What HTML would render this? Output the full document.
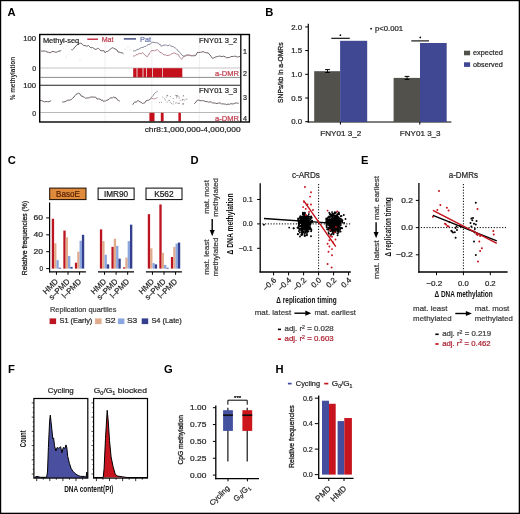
<!DOCTYPE html>
<html><head><meta charset="utf-8"><style>html,body{margin:0;padding:0;background:#fff;overflow:hidden;}svg{display:block;will-change:transform;}</style></head>
<body><svg width="520" height="514" viewBox="0 0 520 514" font-family='"Liberation Sans", sans-serif'><rect x="0" y="0" width="520" height="514" fill="#fff"/><text x="7.6" y="15.8" font-size="11.2" text-anchor="start" fill="#000" font-weight="bold">A</text><text x="14.6" y="78.6" font-size="7.6" text-anchor="middle" fill="#1a1a1a" font-weight="bold" textLength="43.5" lengthAdjust="spacingAndGlyphs" transform="rotate(-90 14.6 78.6)">% methylation</text><text x="36.1" y="40.6" font-size="7.2" text-anchor="end" fill="#282828" textLength="12.9" lengthAdjust="spacingAndGlyphs" stroke="#282828" stroke-width="0.22">100</text><text x="36.1" y="70.7" font-size="7.2" text-anchor="end" fill="#282828" textLength="3.9" lengthAdjust="spacingAndGlyphs" stroke="#282828" stroke-width="0.22">0</text><text x="36.1" y="88.3" font-size="7.2" text-anchor="end" fill="#282828" textLength="12.9" lengthAdjust="spacingAndGlyphs" stroke="#282828" stroke-width="0.22">100</text><text x="36.1" y="115.7" font-size="7.2" text-anchor="end" fill="#282828" textLength="3.9" lengthAdjust="spacingAndGlyphs" stroke="#282828" stroke-width="0.22">0</text><line x1="105" y1="35.2" x2="105" y2="121.4" stroke="#e4e4e4" stroke-width="0.6"/><line x1="151.8" y1="35.2" x2="151.8" y2="121.4" stroke="#e4e4e4" stroke-width="0.6"/><line x1="199.3" y1="35.2" x2="199.3" y2="121.4" stroke="#e4e4e4" stroke-width="0.6"/><line x1="40.4" y1="68" x2="240.2" y2="68" stroke="#c4c4c4" stroke-width="1.0"/><line x1="40.4" y1="77.4" x2="240.2" y2="77.4" stroke="#8c8c8c" stroke-width="1.0"/><line x1="40.4" y1="112.5" x2="240.2" y2="112.5" stroke="#b8b8b8" stroke-width="1.0"/><rect x="133.2" y="68.2" width="3.4000000000000057" height="9.0" fill="#c4101a"/><rect x="137.4" y="68.2" width="5.199999999999989" height="9.0" fill="#c4101a"/><rect x="143.4" y="68.2" width="2.799999999999983" height="9.0" fill="#c4101a"/><rect x="146.9" y="68.2" width="5.400000000000006" height="9.0" fill="#c4101a"/><rect x="153.0" y="68.2" width="9.199999999999989" height="9.0" fill="#c4101a"/><rect x="162.8" y="68.2" width="19.5" height="9.0" fill="#c4101a"/><rect x="149.4" y="112.8" width="5.099999999999994" height="8.6" fill="#c4101a"/><rect x="160.8" y="112.8" width="2.799999999999983" height="8.6" fill="#c4101a"/><rect x="178.4" y="112.8" width="2.5" height="8.6" fill="#c4101a"/><polyline points="41.0,51.0 42.5,51.1 44.0,50.9 45.5,51.2 47.0,52.0 48.5,52.2 50.0,53.0 51.5,51.8 53.0,51.5 54.5,51.8 56.0,52.4 57.5,51.7 59.0,51.2 61.2,50.6" fill="none" stroke="#5e5258" stroke-width="0.9" stroke-linejoin="round"/><polyline points="71.3,49.7 72.4,49.8 73.5,48.9 74.8,46.9 76.0,46.0 77.0,44.9 78.0,44.2 79.4,43.5 80.7,43.2 82.0,43.8 83.5,45.5 85.0,45.5 86.8,46.3 88.5,45.5 89.8,46.8 91.0,47.9 92.5,47.4 94.0,48.6 96.0,49.6 97.3,48.4 98.6,48.5 99.8,49.8 101.0,50.9 102.5,50.6 104.0,50.8 105.0,52.7 106.3,51.6 107.7,51.4 108.8,50.6 110.0,49.5 111.2,48.5 112.4,47.8 113.7,48.2 115.0,48.9 116.0,49.5 117.0,50.0 118.0,52.0 119.2,52.1 120.5,52.7 122.0,52.7 123.5,53.8" fill="none" stroke="#5e5258" stroke-width="0.9" stroke-linejoin="round"/><polyline points="195.0,56.1 196.0,55.1 197.0,52.8 198.1,52.2 199.1,52.6 200.4,52.3 201.7,52.1 203.0,51.5 204.2,52.3 205.5,52.6 206.8,53.0 208.0,52.7 209.0,54.0 210.0,54.9 211.2,56.6 212.4,58.3 213.6,58.0 214.8,57.3 216.0,56.9 217.3,56.6 218.7,56.2 220.0,56.1 221.8,56.6 223.5,56.2 225.0,56.7 226.5,57.8 228.0,57.6 229.3,57.5 230.7,56.8 232.0,56.3 233.3,56.6 234.7,56.1 236.0,56.4 237.3,57.1 238.7,56.7 240.0,56.5" fill="none" stroke="#5e5258" stroke-width="0.9" stroke-linejoin="round"/><polyline points="133.0,51.3 134.3,50.6 135.7,50.7 137.0,49.5 138.5,49.3 140.0,48.3 141.5,47.5 143.0,47.5 144.5,46.4 146.0,46.4 147.0,45.3 148.0,44.7 149.0,44.4 150.2,44.2 151.5,42.7 152.8,42.3 154.0,42.2 155.2,42.8 156.5,42.7 158.5,43.1 159.4,44.7 160.4,44.5 161.3,46.4 162.7,45.5 164.0,45.2 165.2,45.0 166.5,45.2 167.9,45.8 169.4,45.0 170.8,46.0 172.1,46.5 173.5,46.6 174.5,47.8 175.5,48.1 176.5,49.0 177.4,50.0 178.3,51.4 179.3,51.9 180.2,52.6 181.1,54.0 182.0,55.0 182.9,56.0 184.2,56.2 185.6,55.7 186.8,54.9 188.0,55.1 189.5,55.2 191.0,55.9 192.3,55.7 193.7,55.2 195.0,55.5" fill="none" stroke="#707488" stroke-width="0.85" stroke-linejoin="round"/><polyline points="133.0,55.9 134.5,56.2 136.0,54.6 137.5,54.7 139.0,53.5 140.2,53.3 141.3,53.8 142.5,52.5 143.8,54.1 145.0,55.0 146.1,55.9 147.2,56.9 148.0,55.4 148.7,55.0 149.5,53.0 150.3,52.3 151.1,51.1 151.9,50.5 153.2,50.5 154.5,50.9 155.9,50.1 157.3,49.6 158.7,50.8 160.0,52.6 161.0,52.2 162.0,53.5 163.0,54.0 164.0,55.0 165.3,54.8 166.7,55.5 168.0,55.5 169.4,55.0 170.7,54.6 172.1,53.6 173.5,53.1 174.8,53.0 176.2,54.0 177.3,54.2 178.5,54.6 179.3,56.8 180.2,57.6 181.5,59.2 182.4,58.5 183.3,56.8 184.2,56.0 185.6,56.2 187.0,54.9 188.3,55.7 189.7,54.9 191.0,55.6 192.3,55.7 193.7,56.0 195.0,55.5" fill="none" stroke="#a87580" stroke-width="0.85" stroke-linejoin="round"/><circle cx="45.0" cy="45.0" r="0.45" fill="#aaa"/><circle cx="63.0" cy="48.0" r="0.45" fill="#aaa"/><circle cx="67.0" cy="46.0" r="0.45" fill="#aaa"/><circle cx="80.0" cy="60.0" r="0.45" fill="#aaa"/><circle cx="66.0" cy="57.0" r="0.45" fill="#aaa"/><circle cx="125.0" cy="49.0" r="0.45" fill="#aaa"/><circle cx="128.0" cy="47.0" r="0.45" fill="#aaa"/><circle cx="130.0" cy="50.0" r="0.45" fill="#aaa"/><polyline points="40.0,100.4 41.5,100.6 43.0,101.2 44.5,101.9 46.0,101.5 47.5,101.7 49.0,101.8 51.1,100.6" fill="none" stroke="#5e5258" stroke-width="0.9" stroke-linejoin="round"/><polyline points="62.2,101.7 63.6,102.1 65.0,101.6 66.5,100.9 68.0,100.0 69.7,100.2 71.3,99.6 72.7,98.1 74.0,97.0 75.0,95.6 76.0,94.3 77.2,93.9 78.4,93.2 80.0,93.9 81.0,95.9 82.0,96.1 83.2,96.8 84.4,97.2 85.6,98.4 86.8,97.9 88.0,98.0 89.5,97.7 91.0,96.9 92.8,97.1 94.5,97.1 95.8,97.3 97.0,99.1 98.5,98.8 100.0,99.0 101.2,100.4 102.3,99.8 103.4,101.4 104.6,101.1 105.7,100.9 106.9,100.2 108.0,100.0 109.5,98.7 111.0,97.6 112.3,98.2 113.7,96.7 114.8,97.9 116.0,97.6 117.0,99.4 118.0,100.1 118.9,100.7 119.8,101.2" fill="none" stroke="#5e5258" stroke-width="0.9" stroke-linejoin="round"/><polyline points="132.7,104.8 133.8,102.8 135.0,101.8 136.2,102.4 137.5,100.6 138.8,100.9 140.0,102.0 141.2,102.2 142.3,103.5 143.5,103.1 144.8,102.9 146.0,100.7 147.4,100.4 148.8,100.1 149.9,99.3 151.0,98.5" fill="none" stroke="#5e5258" stroke-width="0.9" stroke-linejoin="round"/><polyline points="194.2,103.8 195.1,103.0 196.0,102.0 197.2,100.2 198.5,100.1 200.0,100.5 201.3,100.8 202.7,100.5 204.3,101.0 206.0,101.7 207.3,101.6 208.7,102.2 210.0,101.8 211.3,102.1 212.7,103.1 214.1,102.9 215.4,103.2 216.9,103.6 218.5,103.1 220.0,102.8 221.3,103.9 222.7,103.8 224.0,104.0 225.3,104.1 226.7,104.7 228.0,104.0 229.3,104.4 230.7,103.7 232.0,103.9 233.5,103.9 235.0,103.2 236.2,102.8 237.5,103.3 238.7,103.2" fill="none" stroke="#5e5258" stroke-width="0.9" stroke-linejoin="round"/><circle cx="165.7" cy="99.9" r="0.5" fill="#8a8088"/><circle cx="169.4" cy="100.4" r="0.5" fill="#8a8088"/><circle cx="176.5" cy="95.6" r="0.5" fill="#8a8088"/><circle cx="159.4" cy="102.5" r="0.5" fill="#8a8088"/><circle cx="166.3" cy="97.1" r="0.5" fill="#8a8088"/><circle cx="186.9" cy="99.2" r="0.5" fill="#8a8088"/><circle cx="182.4" cy="99.3" r="0.5" fill="#8a8088"/><circle cx="176.9" cy="96.4" r="0.5" fill="#8a8088"/><circle cx="176.8" cy="102.8" r="0.5" fill="#8a8088"/><circle cx="173.6" cy="101.7" r="0.5" fill="#8a8088"/><circle cx="177.8" cy="95.6" r="0.5" fill="#8a8088"/><circle cx="180.2" cy="100.3" r="0.5" fill="#8a8088"/><circle cx="167.4" cy="95.3" r="0.5" fill="#8a8088"/><circle cx="183.2" cy="99.3" r="0.5" fill="#8a8088"/><circle cx="179.1" cy="102.9" r="0.5" fill="#8a8088"/><circle cx="179.0" cy="103.3" r="0.5" fill="#8a8088"/><circle cx="170.1" cy="102.2" r="0.5" fill="#8a8088"/><circle cx="171.4" cy="103.4" r="0.5" fill="#8a8088"/><circle cx="183.6" cy="95.9" r="0.5" fill="#8a8088"/><circle cx="162.8" cy="97.0" r="0.5" fill="#8a8088"/><circle cx="186.0" cy="98.9" r="0.5" fill="#8a8088"/><circle cx="176.5" cy="97.7" r="0.5" fill="#8a8088"/><circle cx="173.2" cy="98.5" r="0.5" fill="#8a8088"/><circle cx="168.8" cy="100.3" r="0.5" fill="#8a8088"/><circle cx="175.4" cy="103.1" r="0.5" fill="#8a8088"/><circle cx="178.1" cy="103.4" r="0.5" fill="#8a8088"/><circle cx="183.0" cy="103.9" r="0.5" fill="#8a8088"/><circle cx="177.8" cy="96.5" r="0.5" fill="#8a8088"/><circle cx="183.1" cy="103.7" r="0.5" fill="#8a8088"/><circle cx="184.3" cy="100.1" r="0.5" fill="#8a8088"/><circle cx="179.0" cy="96.9" r="0.5" fill="#8a8088"/><circle cx="182.3" cy="100.2" r="0.5" fill="#8a8088"/><circle cx="167.0" cy="95.6" r="0.5" fill="#8a8088"/><circle cx="182.9" cy="103.9" r="0.5" fill="#8a8088"/><circle cx="161.5" cy="102.2" r="0.5" fill="#8a8088"/><circle cx="170.5" cy="96.4" r="0.5" fill="#8a8088"/><circle cx="167.2" cy="101.9" r="0.5" fill="#8a8088"/><circle cx="183.4" cy="95.4" r="0.5" fill="#8a8088"/><circle cx="176.2" cy="95.4" r="0.5" fill="#8a8088"/><circle cx="179.1" cy="98.0" r="0.5" fill="#8a8088"/><circle cx="183.7" cy="103.8" r="0.5" fill="#8a8088"/><circle cx="173.2" cy="104.0" r="0.5" fill="#8a8088"/><circle cx="167.7" cy="95.7" r="0.5" fill="#8a8088"/><circle cx="175.8" cy="95.3" r="0.5" fill="#8a8088"/><circle cx="164.5" cy="98.7" r="0.5" fill="#8a8088"/><polyline points="151.0,97.9 151.7,97.0 152.3,96.4 153.0,95.7 154.2,93.8 155.5,92.5 156.6,91.9 157.6,91.4" fill="none" stroke="#707488" stroke-width="0.8" stroke-linejoin="round"/><polyline points="151.0,98.0 152.2,98.4 153.5,98.8 155.5,98.7 157.5,97.5" fill="none" stroke="#a87580" stroke-width="0.8" stroke-linejoin="round"/><rect x="39.7" y="34.5" width="209.7" height="87.5" fill="none" stroke="#000" stroke-width="1.4"/><line x1="240.8" y1="34.5" x2="240.8" y2="122" stroke="#000" stroke-width="1.3"/><line x1="39.8" y1="85.3" x2="240.8" y2="85.3" stroke="#222" stroke-width="1.1"/><text x="42.9" y="42.6" font-size="7.3" text-anchor="start" fill="#282828" textLength="36.3" lengthAdjust="spacingAndGlyphs" stroke="#282828" stroke-width="0.22">Methyl-seq</text><line x1="87.3" y1="39.2" x2="98" y2="39.2" stroke="#c0283a" stroke-width="1.4"/><text x="101.7" y="42.2" font-size="7.0" text-anchor="start" fill="#c04050" textLength="11.8" lengthAdjust="spacingAndGlyphs" stroke="#c04050" stroke-width="0.22">Mat</text><line x1="123.8" y1="38.9" x2="136" y2="38.9" stroke="#3a4278" stroke-width="1.4"/><text x="140" y="42.2" font-size="7.0" text-anchor="start" fill="#6a76ae" textLength="11" lengthAdjust="spacingAndGlyphs" stroke="#6a76ae" stroke-width="0.22">Pat</text><text x="237.3" y="43.1" font-size="7.3" text-anchor="end" fill="#282828" textLength="38.3" lengthAdjust="spacingAndGlyphs" stroke="#282828" stroke-width="0.22">FNY01 3_2</text><text x="237.3" y="92.6" font-size="7.3" text-anchor="end" fill="#282828" textLength="38.3" lengthAdjust="spacingAndGlyphs" stroke="#282828" stroke-width="0.22">FNY01 3_3</text><text x="239.1" y="75.9" font-size="7.1" text-anchor="end" fill="#c04050" textLength="24" lengthAdjust="spacingAndGlyphs" stroke="#c04050" stroke-width="0.22">a-DMR</text><text x="239.1" y="120.6" font-size="7.1" text-anchor="end" fill="#c04050" textLength="24" lengthAdjust="spacingAndGlyphs" stroke="#c04050" stroke-width="0.22">a-DMR</text><text x="245" y="54.300000000000004" font-size="7.2" text-anchor="middle" fill="#282828" stroke="#282828" stroke-width="0.22">1</text><text x="245" y="76.3" font-size="7.2" text-anchor="middle" fill="#282828" stroke="#282828" stroke-width="0.22">2</text><text x="245" y="99.6" font-size="7.2" text-anchor="middle" fill="#282828" stroke="#282828" stroke-width="0.22">3</text><text x="245" y="120.69999999999999" font-size="7.2" text-anchor="middle" fill="#282828" stroke="#282828" stroke-width="0.22">4</text><text x="144.7" y="132.4" font-size="7.2" text-anchor="start" fill="#282828" textLength="95.9" lengthAdjust="spacingAndGlyphs" stroke="#282828" stroke-width="0.22">chr8:1,000,000-4,000,000</text><text x="265.2" y="15.8" font-size="11.2" text-anchor="start" fill="#000" font-weight="bold">B</text><text x="283.4" y="72.7" font-size="7.0" text-anchor="middle" fill="#1e1e1e" textLength="60.5" lengthAdjust="spacingAndGlyphs" transform="rotate(-90 283.4 72.7)" stroke="#1e1e1e" stroke-width="0.3">SNPs/kb in a-OMRs</text><line x1="308.3" y1="23.8" x2="308.3" y2="122.4" stroke="#000" stroke-width="1.2"/><line x1="307.7" y1="122" x2="451.4" y2="122" stroke="#000" stroke-width="1.2"/><line x1="305.2" y1="121.7" x2="308.3" y2="121.7" stroke="#000" stroke-width="1"/><text x="302.1" y="124.3" font-size="7.2" text-anchor="end" fill="#282828" textLength="10.9" lengthAdjust="spacingAndGlyphs" stroke="#282828" stroke-width="0.22">0.0</text><line x1="305.2" y1="98.0" x2="308.3" y2="98.0" stroke="#000" stroke-width="1"/><text x="302.1" y="100.6" font-size="7.2" text-anchor="end" fill="#282828" textLength="10.9" lengthAdjust="spacingAndGlyphs" stroke="#282828" stroke-width="0.22">0.5</text><line x1="305.2" y1="74.30000000000001" x2="308.3" y2="74.30000000000001" stroke="#000" stroke-width="1"/><text x="302.1" y="76.9" font-size="7.2" text-anchor="end" fill="#282828" textLength="10.9" lengthAdjust="spacingAndGlyphs" stroke="#282828" stroke-width="0.22">1.0</text><line x1="305.2" y1="50.60000000000001" x2="308.3" y2="50.60000000000001" stroke="#000" stroke-width="1"/><text x="302.1" y="53.20000000000001" font-size="7.2" text-anchor="end" fill="#282828" textLength="10.9" lengthAdjust="spacingAndGlyphs" stroke="#282828" stroke-width="0.22">1.5</text><line x1="305.2" y1="26.900000000000006" x2="308.3" y2="26.900000000000006" stroke="#000" stroke-width="1"/><text x="302.1" y="29.500000000000007" font-size="7.2" text-anchor="end" fill="#282828" textLength="10.9" lengthAdjust="spacingAndGlyphs" stroke="#282828" stroke-width="0.22">2.0</text><rect x="314.2" y="71.2" width="25.9" height="50.8" fill="#52514c"/><rect x="340.1" y="40.8" width="27.1" height="81.2" fill="#414893"/><rect x="393.6" y="77.9" width="26.4" height="44.1" fill="#52514c"/><rect x="420" y="43" width="26.7" height="79" fill="#414893"/><line x1="327.5" y1="69.6" x2="327.5" y2="72.5" stroke="#000" stroke-width="0.9"/><line x1="325.1" y1="69.6" x2="329.9" y2="69.6" stroke="#000" stroke-width="1"/><line x1="325.1" y1="72.5" x2="329.9" y2="72.5" stroke="#000" stroke-width="1"/><line x1="407" y1="76.4" x2="407" y2="79.4" stroke="#000" stroke-width="0.9"/><line x1="404.6" y1="76.4" x2="409.4" y2="76.4" stroke="#000" stroke-width="1"/><line x1="404.6" y1="79.4" x2="409.4" y2="79.4" stroke="#000" stroke-width="1"/><line x1="331.3" y1="38.3" x2="349.8" y2="38.3" stroke="#000" stroke-width="1.1"/><line x1="411.3" y1="40.9" x2="429" y2="40.9" stroke="#000" stroke-width="1.1"/><circle cx="340.4" cy="35.2" r="0.85" fill="#000"/><circle cx="420.3" cy="37.4" r="0.85" fill="#000"/><circle cx="371.1" cy="28.7" r="0.85" fill="#000"/><text x="375" y="30.8" font-size="7.2" text-anchor="start" fill="#282828" textLength="28.1" lengthAdjust="spacingAndGlyphs" stroke="#282828" stroke-width="0.22">p&lt;0.001</text><rect x="464" y="50.7" width="6.1" height="4.6" fill="#52514c"/><rect x="464" y="62.3" width="6.1" height="4.6" fill="#414893"/><text x="473" y="55.3" font-size="7.2" text-anchor="start" fill="#282828" textLength="29.8" lengthAdjust="spacingAndGlyphs" stroke="#282828" stroke-width="0.22">expected</text><text x="473" y="67.1" font-size="7.2" text-anchor="start" fill="#282828" textLength="29.8" lengthAdjust="spacingAndGlyphs" stroke="#282828" stroke-width="0.22">observed</text><line x1="340.4" y1="122" x2="340.4" y2="124.6" stroke="#000" stroke-width="1"/><line x1="419.8" y1="122" x2="419.8" y2="124.6" stroke="#000" stroke-width="1"/><text x="340.7" y="135.5" font-size="7.8" text-anchor="middle" fill="#282828" textLength="41" lengthAdjust="spacingAndGlyphs" stroke="#282828" stroke-width="0.22">FNY01 3_2</text><text x="420.2" y="135.5" font-size="7.8" text-anchor="middle" fill="#282828" textLength="40.8" lengthAdjust="spacingAndGlyphs" stroke="#282828" stroke-width="0.22">FNY01 3_3</text><text x="7.8" y="164" font-size="11.2" text-anchor="start" fill="#000" font-weight="bold">C</text><text x="27.0" y="238.0" font-size="7.6" text-anchor="middle" fill="#1e1e1e" textLength="74.4" lengthAdjust="spacingAndGlyphs" transform="rotate(-90 27.0 238.0)" stroke="#1e1e1e" stroke-width="0.3">Relative frequencies (%)</text><line x1="49.6" y1="202.5" x2="49.6" y2="272.3" stroke="#000" stroke-width="1.2"/><line x1="46.2" y1="268.6" x2="49.6" y2="268.6" stroke="#000" stroke-width="1"/><text x="43" y="271.1" font-size="7.2" text-anchor="end" fill="#282828" textLength="3.5" lengthAdjust="spacingAndGlyphs" stroke="#282828" stroke-width="0.22">0</text><line x1="46.2" y1="251.70000000000002" x2="49.6" y2="251.70000000000002" stroke="#000" stroke-width="1"/><text x="43" y="254.20000000000002" font-size="7.2" text-anchor="end" fill="#282828" textLength="9.5" lengthAdjust="spacingAndGlyphs" stroke="#282828" stroke-width="0.22">20</text><line x1="46.2" y1="234.8" x2="49.6" y2="234.8" stroke="#000" stroke-width="1"/><text x="43" y="237.3" font-size="7.2" text-anchor="end" fill="#282828" textLength="9.5" lengthAdjust="spacingAndGlyphs" stroke="#282828" stroke-width="0.22">40</text><line x1="46.2" y1="217.90000000000003" x2="49.6" y2="217.90000000000003" stroke="#000" stroke-width="1"/><text x="43" y="220.40000000000003" font-size="7.2" text-anchor="end" fill="#282828" textLength="9.5" lengthAdjust="spacingAndGlyphs" stroke="#282828" stroke-width="0.22">60</text><rect x="49.7" y="188.1" width="36.3" height="11.5" fill="#e08a3c" stroke="#1a0a00" stroke-width="1"/><text x="67.9" y="197" font-size="8.2" text-anchor="middle" fill="#5a2400" textLength="23.8" lengthAdjust="spacingAndGlyphs" stroke="#5a2400" stroke-width="0.22">BasoE</text><line x1="49.0" y1="271.9" x2="85.9" y2="271.9" stroke="#000" stroke-width="1.2"/><line x1="56.4375" y1="271.9" x2="56.4375" y2="274.8" stroke="#000" stroke-width="1"/><rect x="51.78" y="218.75" width="2.33" height="49.85" fill="#bc1420"/><rect x="54.11" y="243.25" width="2.33" height="25.35" fill="#e0aa8c"/><rect x="56.44" y="260.15" width="2.33" height="8.45" fill="#8ca6df"/><rect x="58.77" y="267.75" width="2.33" height="0.84" fill="#343f8e"/><text x="58.6" y="282.0" font-size="7.9" text-anchor="end" fill="#282828" transform="rotate(-45 58.6 282.0)" stroke="#282828" stroke-width="0.22">HMD</text><line x1="68.0" y1="271.9" x2="68.0" y2="274.8" stroke="#000" stroke-width="1"/><rect x="63.34" y="230.58" width="2.33" height="38.02" fill="#bc1420"/><rect x="65.67" y="237.34" width="2.33" height="31.27" fill="#e0aa8c"/><rect x="68.00" y="255.93" width="2.33" height="12.67" fill="#8ca6df"/><rect x="70.33" y="266.91" width="2.33" height="1.69" fill="#343f8e"/><text x="70.2" y="282.0" font-size="7.9" text-anchor="end" fill="#282828" transform="rotate(-45 70.2 282.0)" stroke="#282828" stroke-width="0.22">s–PMD</text><line x1="79.5625" y1="271.9" x2="79.5625" y2="274.8" stroke="#000" stroke-width="1"/><rect x="74.90" y="262.69" width="2.33" height="5.92" fill="#bc1420"/><rect x="77.23" y="251.70" width="2.33" height="16.90" fill="#e0aa8c"/><rect x="79.56" y="240.72" width="2.33" height="27.88" fill="#8ca6df"/><rect x="81.89" y="234.80" width="2.33" height="33.80" fill="#343f8e"/><text x="81.8" y="282.0" font-size="7.9" text-anchor="end" fill="#282828" transform="rotate(-45 81.8 282.0)" stroke="#282828" stroke-width="0.22">l–PMD</text><rect x="98.1" y="188.1" width="36" height="11.5" fill="#fff" stroke="#000" stroke-width="1"/><text x="116.0" y="197" font-size="8.2" text-anchor="middle" fill="#1a1a1a" textLength="24.2" lengthAdjust="spacingAndGlyphs" stroke="#1a1a1a" stroke-width="0.22">IMR90</text><line x1="98.0" y1="271.9" x2="134.0" y2="271.9" stroke="#000" stroke-width="1.2"/><line x1="104.5375" y1="271.9" x2="104.5375" y2="274.8" stroke="#000" stroke-width="1"/><rect x="99.88" y="229.39" width="2.33" height="39.21" fill="#bc1420"/><rect x="102.21" y="241.14" width="2.33" height="27.46" fill="#e0aa8c"/><rect x="104.54" y="254.74" width="2.33" height="13.86" fill="#8ca6df"/><rect x="106.87" y="264.38" width="2.33" height="4.22" fill="#343f8e"/><text x="106.7" y="282.0" font-size="7.9" text-anchor="end" fill="#282828" transform="rotate(-45 106.7 282.0)" stroke="#282828" stroke-width="0.22">HMD</text><line x1="116.1" y1="271.9" x2="116.1" y2="274.8" stroke="#000" stroke-width="1"/><rect x="111.44" y="246.88" width="2.33" height="21.72" fill="#bc1420"/><rect x="113.77" y="238.77" width="2.33" height="29.83" fill="#e0aa8c"/><rect x="116.10" y="245.87" width="2.33" height="22.73" fill="#8ca6df"/><rect x="118.43" y="258.63" width="2.33" height="9.97" fill="#343f8e"/><text x="118.3" y="282.0" font-size="7.9" text-anchor="end" fill="#282828" transform="rotate(-45 118.3 282.0)" stroke="#282828" stroke-width="0.22">s–PMD</text><line x1="127.6625" y1="271.9" x2="127.6625" y2="274.8" stroke="#000" stroke-width="1"/><rect x="123.00" y="267.33" width="2.33" height="1.27" fill="#bc1420"/><rect x="125.33" y="257.62" width="2.33" height="10.98" fill="#e0aa8c"/><rect x="127.66" y="241.14" width="2.33" height="27.46" fill="#8ca6df"/><rect x="129.99" y="224.66" width="2.33" height="43.94" fill="#343f8e"/><text x="129.9" y="282.0" font-size="7.9" text-anchor="end" fill="#282828" transform="rotate(-45 129.9 282.0)" stroke="#282828" stroke-width="0.22">l–PMD</text><rect x="146.0" y="188.1" width="36" height="11.5" fill="#fff" stroke="#000" stroke-width="1"/><text x="163.9" y="197" font-size="8.2" text-anchor="middle" fill="#1a1a1a" textLength="19.5" lengthAdjust="spacingAndGlyphs" stroke="#1a1a1a" stroke-width="0.22">K562</text><line x1="145.9" y1="271.9" x2="181.9" y2="271.9" stroke="#000" stroke-width="1.2"/><line x1="152.4375" y1="271.9" x2="152.4375" y2="274.8" stroke="#000" stroke-width="1"/><rect x="147.78" y="214.18" width="2.33" height="54.42" fill="#bc1420"/><rect x="150.11" y="248.32" width="2.33" height="20.28" fill="#e0aa8c"/><rect x="152.44" y="263.11" width="2.33" height="5.49" fill="#8ca6df"/><rect x="154.77" y="264.38" width="2.33" height="4.22" fill="#343f8e"/><text x="154.6" y="282.0" font-size="7.9" text-anchor="end" fill="#282828" transform="rotate(-45 154.6 282.0)" stroke="#282828" stroke-width="0.22">HMD</text><line x1="164.0" y1="271.9" x2="164.0" y2="274.8" stroke="#000" stroke-width="1"/><rect x="159.34" y="204.46" width="2.33" height="64.14" fill="#bc1420"/><rect x="161.67" y="252.80" width="2.33" height="15.80" fill="#e0aa8c"/><rect x="164.00" y="264.97" width="2.33" height="3.63" fill="#8ca6df"/><rect x="166.33" y="267.75" width="2.33" height="0.84" fill="#343f8e"/><text x="166.2" y="282.0" font-size="7.9" text-anchor="end" fill="#282828" transform="rotate(-45 166.2 282.0)" stroke="#282828" stroke-width="0.22">s–PMD</text><line x1="175.5625" y1="271.9" x2="175.5625" y2="274.8" stroke="#000" stroke-width="1"/><rect x="170.90" y="257.02" width="2.33" height="11.58" fill="#bc1420"/><rect x="173.23" y="246.88" width="2.33" height="21.72" fill="#e0aa8c"/><rect x="175.56" y="243.59" width="2.33" height="25.01" fill="#8ca6df"/><rect x="177.89" y="242.57" width="2.33" height="26.03" fill="#343f8e"/><text x="177.8" y="282.0" font-size="7.9" text-anchor="end" fill="#282828" transform="rotate(-45 177.8 282.0)" stroke="#282828" stroke-width="0.22">l–PMD</text><text x="50" y="311.7" font-size="7.4" text-anchor="start" fill="#404040" textLength="66.4" lengthAdjust="spacingAndGlyphs" stroke="#404040" stroke-width="0.22">Replication quartiles</text><rect x="49.6" y="318.4" width="6.5" height="5.7" fill="#bc1420"/><text x="59.5" y="323.0" font-size="7.6" text-anchor="start" fill="#282828" textLength="32.8" lengthAdjust="spacingAndGlyphs" stroke="#282828" stroke-width="0.22">S1 (Early)</text><rect x="95.1" y="318.4" width="6.5" height="5.7" fill="#e0aa8c"/><text x="105.1" y="323.0" font-size="7.6" text-anchor="start" fill="#282828" textLength="10.6" lengthAdjust="spacingAndGlyphs" stroke="#282828" stroke-width="0.22">S2</text><rect x="117.9" y="318.4" width="6.5" height="5.7" fill="#8ca6df"/><text x="127" y="323.0" font-size="7.6" text-anchor="start" fill="#282828" textLength="10.3" lengthAdjust="spacingAndGlyphs" stroke="#282828" stroke-width="0.22">S3</text><rect x="141.7" y="318.4" width="6.5" height="5.7" fill="#343f8e"/><text x="151.4" y="323.0" font-size="7.6" text-anchor="start" fill="#282828" textLength="30.4" lengthAdjust="spacingAndGlyphs" stroke="#282828" stroke-width="0.22">S4 (Late)</text><text x="190.6" y="164.1" font-size="11.2" text-anchor="start" fill="#000" font-weight="bold">D</text><line x1="260.2" y1="183.3" x2="260.2" y2="272.6" stroke="#000" stroke-width="1.3"/><line x1="259.59999999999997" y1="272" x2="350.8" y2="272" stroke="#000" stroke-width="1.3"/><line x1="257.1" y1="199.5" x2="260.2" y2="199.5" stroke="#000" stroke-width="1"/><text x="252.6" y="202.0" font-size="7.1" text-anchor="end" fill="#282828" textLength="9.8" lengthAdjust="spacingAndGlyphs" stroke="#282828" stroke-width="0.22">0.1</text><line x1="257.1" y1="223.9" x2="260.2" y2="223.9" stroke="#000" stroke-width="1"/><text x="252.6" y="226.4" font-size="7.1" text-anchor="end" fill="#282828" textLength="9.8" lengthAdjust="spacingAndGlyphs" stroke="#282828" stroke-width="0.22">0.0</text><line x1="257.1" y1="248.3" x2="260.2" y2="248.3" stroke="#000" stroke-width="1"/><text x="252.6" y="250.8" font-size="7.1" text-anchor="end" fill="#282828" textLength="13.8" lengthAdjust="spacingAndGlyphs" stroke="#282828" stroke-width="0.22">−0.1</text><line x1="273.6" y1="272" x2="273.6" y2="275.4" stroke="#000" stroke-width="1"/><text x="276.8" y="280.6" font-size="7.8" text-anchor="end" fill="#282828" transform="rotate(-45 276.8 280.6)" stroke="#282828" stroke-width="0.22">−0.6</text><line x1="288.6" y1="272" x2="288.6" y2="275.4" stroke="#000" stroke-width="1"/><text x="291.8" y="280.6" font-size="7.8" text-anchor="end" fill="#282828" transform="rotate(-45 291.8 280.6)" stroke="#282828" stroke-width="0.22">−0.4</text><line x1="303.6" y1="272" x2="303.6" y2="275.4" stroke="#000" stroke-width="1"/><text x="306.8" y="280.6" font-size="7.8" text-anchor="end" fill="#282828" transform="rotate(-45 306.8 280.6)" stroke="#282828" stroke-width="0.22">−0.2</text><line x1="318.6" y1="272" x2="318.6" y2="275.4" stroke="#000" stroke-width="1"/><text x="321.8" y="280.6" font-size="7.8" text-anchor="end" fill="#282828" transform="rotate(-45 321.8 280.6)" stroke="#282828" stroke-width="0.22">0.0</text><line x1="333.6" y1="272" x2="333.6" y2="275.4" stroke="#000" stroke-width="1"/><text x="336.8" y="280.6" font-size="7.8" text-anchor="end" fill="#282828" transform="rotate(-45 336.8 280.6)" stroke="#282828" stroke-width="0.22">0.2</text><line x1="348.6" y1="272" x2="348.6" y2="275.4" stroke="#000" stroke-width="1"/><text x="351.8" y="280.6" font-size="7.8" text-anchor="end" fill="#282828" transform="rotate(-45 351.8 280.6)" stroke="#282828" stroke-width="0.22">0.4</text><line x1="262.2" y1="223.9" x2="350.5" y2="223.9" stroke="#000" stroke-width="1.0" stroke-dasharray="1.2 1.6"/><line x1="318.6" y1="184" x2="318.6" y2="271.3" stroke="#000" stroke-width="1.0" stroke-dasharray="1.2 1.6"/><circle cx="300.3" cy="225.6" r="0.95" fill="#000"/><circle cx="308.8" cy="220.6" r="0.95" fill="#000"/><circle cx="299.9" cy="223.1" r="0.95" fill="#000"/><circle cx="306.8" cy="229.6" r="0.95" fill="#000"/><circle cx="300.4" cy="216.3" r="0.95" fill="#000"/><circle cx="307.7" cy="226.2" r="0.95" fill="#000"/><circle cx="310.8" cy="229.0" r="0.95" fill="#000"/><circle cx="304.6" cy="222.0" r="0.95" fill="#000"/><circle cx="302.0" cy="217.1" r="0.95" fill="#000"/><circle cx="305.4" cy="224.3" r="0.95" fill="#000"/><circle cx="303.7" cy="223.2" r="0.95" fill="#000"/><circle cx="306.0" cy="227.4" r="0.95" fill="#000"/><circle cx="309.2" cy="224.7" r="0.95" fill="#000"/><circle cx="298.2" cy="227.4" r="0.95" fill="#000"/><circle cx="299.6" cy="222.5" r="0.95" fill="#000"/><circle cx="299.4" cy="223.5" r="0.95" fill="#000"/><circle cx="302.0" cy="224.7" r="0.95" fill="#000"/><circle cx="308.2" cy="216.1" r="0.95" fill="#000"/><circle cx="303.9" cy="227.2" r="0.95" fill="#000"/><circle cx="304.6" cy="225.6" r="0.95" fill="#000"/><circle cx="305.4" cy="217.9" r="0.95" fill="#000"/><circle cx="307.1" cy="219.0" r="0.95" fill="#000"/><circle cx="312.1" cy="220.7" r="0.95" fill="#000"/><circle cx="307.6" cy="223.5" r="0.95" fill="#000"/><circle cx="308.6" cy="220.1" r="0.95" fill="#000"/><circle cx="308.8" cy="222.8" r="0.95" fill="#000"/><circle cx="309.8" cy="227.0" r="0.95" fill="#000"/><circle cx="305.5" cy="219.1" r="0.95" fill="#000"/><circle cx="307.9" cy="226.1" r="0.95" fill="#000"/><circle cx="311.2" cy="221.4" r="0.95" fill="#000"/><circle cx="307.1" cy="226.3" r="0.95" fill="#000"/><circle cx="306.1" cy="224.7" r="0.95" fill="#000"/><circle cx="305.7" cy="220.1" r="0.95" fill="#000"/><circle cx="301.1" cy="221.3" r="0.95" fill="#000"/><circle cx="307.2" cy="232.0" r="0.95" fill="#000"/><circle cx="308.7" cy="229.4" r="0.95" fill="#000"/><circle cx="308.0" cy="227.4" r="0.95" fill="#000"/><circle cx="305.7" cy="227.8" r="0.95" fill="#000"/><circle cx="311.7" cy="221.7" r="0.95" fill="#000"/><circle cx="302.4" cy="234.5" r="0.95" fill="#000"/><circle cx="305.9" cy="228.9" r="0.95" fill="#000"/><circle cx="308.3" cy="217.1" r="0.95" fill="#000"/><circle cx="305.7" cy="227.7" r="0.95" fill="#000"/><circle cx="305.5" cy="218.5" r="0.95" fill="#000"/><circle cx="304.6" cy="225.6" r="0.95" fill="#000"/><circle cx="309.2" cy="227.5" r="0.95" fill="#000"/><circle cx="305.2" cy="231.1" r="0.95" fill="#000"/><circle cx="302.1" cy="227.9" r="0.95" fill="#000"/><circle cx="309.2" cy="221.9" r="0.95" fill="#000"/><circle cx="298.2" cy="218.4" r="0.95" fill="#000"/><circle cx="305.9" cy="226.5" r="0.95" fill="#000"/><circle cx="310.9" cy="217.9" r="0.95" fill="#000"/><circle cx="305.0" cy="227.1" r="0.95" fill="#000"/><circle cx="308.8" cy="218.4" r="0.95" fill="#000"/><circle cx="303.4" cy="224.7" r="0.95" fill="#000"/><circle cx="305.4" cy="232.2" r="0.95" fill="#000"/><circle cx="304.7" cy="233.9" r="0.95" fill="#000"/><circle cx="302.4" cy="220.8" r="0.95" fill="#000"/><circle cx="307.7" cy="231.5" r="0.95" fill="#000"/><circle cx="307.5" cy="225.2" r="0.95" fill="#000"/><circle cx="298.1" cy="219.5" r="0.95" fill="#000"/><circle cx="302.7" cy="220.5" r="0.95" fill="#000"/><circle cx="307.2" cy="221.6" r="0.95" fill="#000"/><circle cx="308.0" cy="224.0" r="0.95" fill="#000"/><circle cx="303.7" cy="224.2" r="0.95" fill="#000"/><circle cx="306.6" cy="228.3" r="0.95" fill="#000"/><circle cx="303.2" cy="222.2" r="0.95" fill="#000"/><circle cx="299.8" cy="232.5" r="0.95" fill="#000"/><circle cx="310.5" cy="222.5" r="0.95" fill="#000"/><circle cx="303.2" cy="216.6" r="0.95" fill="#000"/><circle cx="305.6" cy="224.7" r="0.95" fill="#000"/><circle cx="310.4" cy="224.6" r="0.95" fill="#000"/><circle cx="298.9" cy="224.5" r="0.95" fill="#000"/><circle cx="309.3" cy="226.7" r="0.95" fill="#000"/><circle cx="304.5" cy="214.8" r="0.95" fill="#000"/><circle cx="301.6" cy="230.3" r="0.95" fill="#000"/><circle cx="311.2" cy="216.9" r="0.95" fill="#000"/><circle cx="299.2" cy="228.4" r="0.95" fill="#000"/><circle cx="308.2" cy="218.0" r="0.95" fill="#000"/><circle cx="302.4" cy="219.6" r="0.95" fill="#000"/><circle cx="300.5" cy="219.7" r="0.95" fill="#000"/><circle cx="309.8" cy="227.4" r="0.95" fill="#000"/><circle cx="304.5" cy="218.0" r="0.95" fill="#000"/><circle cx="304.5" cy="216.1" r="0.95" fill="#000"/><circle cx="298.2" cy="227.4" r="0.95" fill="#000"/><circle cx="310.5" cy="228.2" r="0.95" fill="#000"/><circle cx="310.1" cy="224.9" r="0.95" fill="#000"/><circle cx="302.3" cy="224.0" r="0.95" fill="#000"/><circle cx="303.6" cy="217.3" r="0.95" fill="#000"/><circle cx="305.0" cy="224.3" r="0.95" fill="#000"/><circle cx="303.2" cy="231.5" r="0.95" fill="#000"/><circle cx="305.7" cy="226.8" r="0.95" fill="#000"/><circle cx="309.6" cy="218.9" r="0.95" fill="#000"/><circle cx="297.5" cy="227.7" r="0.95" fill="#000"/><circle cx="302.4" cy="230.8" r="0.95" fill="#000"/><circle cx="306.3" cy="229.1" r="0.95" fill="#000"/><circle cx="307.7" cy="219.7" r="0.95" fill="#000"/><circle cx="302.1" cy="221.1" r="0.95" fill="#000"/><circle cx="307.9" cy="228.5" r="0.95" fill="#000"/><circle cx="308.8" cy="214.2" r="0.95" fill="#000"/><circle cx="304.6" cy="226.9" r="0.95" fill="#000"/><circle cx="302.1" cy="224.9" r="0.95" fill="#000"/><circle cx="305.9" cy="229.1" r="0.95" fill="#000"/><circle cx="301.9" cy="218.9" r="0.95" fill="#000"/><circle cx="302.1" cy="233.3" r="0.95" fill="#000"/><circle cx="309.1" cy="222.8" r="0.95" fill="#000"/><circle cx="305.9" cy="224.1" r="0.95" fill="#000"/><circle cx="305.8" cy="222.3" r="0.95" fill="#000"/><circle cx="303.7" cy="216.5" r="0.95" fill="#000"/><circle cx="302.6" cy="232.7" r="0.95" fill="#000"/><circle cx="307.0" cy="223.9" r="0.95" fill="#000"/><circle cx="304.2" cy="223.9" r="0.95" fill="#000"/><circle cx="306.3" cy="219.9" r="0.95" fill="#000"/><circle cx="305.7" cy="224.8" r="0.95" fill="#000"/><circle cx="302.2" cy="219.1" r="0.95" fill="#000"/><circle cx="301.2" cy="217.5" r="0.95" fill="#000"/><circle cx="304.0" cy="220.1" r="0.95" fill="#000"/><circle cx="302.6" cy="224.0" r="0.95" fill="#000"/><circle cx="309.3" cy="223.9" r="0.95" fill="#000"/><circle cx="304.5" cy="220.1" r="0.95" fill="#000"/><circle cx="304.5" cy="228.6" r="0.95" fill="#000"/><circle cx="303.5" cy="217.1" r="0.95" fill="#000"/><circle cx="300.2" cy="217.3" r="0.95" fill="#000"/><circle cx="299.7" cy="229.7" r="0.95" fill="#000"/><circle cx="306.3" cy="222.2" r="0.95" fill="#000"/><circle cx="310.5" cy="219.8" r="0.95" fill="#000"/><circle cx="307.9" cy="228.0" r="0.95" fill="#000"/><circle cx="301.5" cy="228.6" r="0.95" fill="#000"/><circle cx="309.9" cy="216.6" r="0.95" fill="#000"/><circle cx="309.0" cy="221.4" r="0.95" fill="#000"/><circle cx="303.5" cy="220.4" r="0.95" fill="#000"/><circle cx="303.8" cy="213.3" r="0.95" fill="#000"/><circle cx="301.2" cy="216.6" r="0.95" fill="#000"/><circle cx="306.9" cy="235.2" r="0.95" fill="#000"/><circle cx="298.5" cy="221.2" r="0.95" fill="#000"/><circle cx="301.4" cy="234.6" r="0.95" fill="#000"/><circle cx="307.2" cy="219.4" r="0.95" fill="#000"/><circle cx="308.6" cy="226.5" r="0.95" fill="#000"/><circle cx="298.8" cy="220.5" r="0.95" fill="#000"/><circle cx="304.1" cy="223.6" r="0.95" fill="#000"/><circle cx="305.5" cy="221.6" r="0.95" fill="#000"/><circle cx="305.7" cy="220.2" r="0.95" fill="#000"/><circle cx="301.6" cy="232.0" r="0.95" fill="#000"/><circle cx="306.4" cy="226.0" r="0.95" fill="#000"/><circle cx="298.9" cy="222.6" r="0.95" fill="#000"/><circle cx="308.1" cy="216.3" r="0.95" fill="#000"/><circle cx="309.2" cy="221.3" r="0.95" fill="#000"/><circle cx="306.5" cy="222.8" r="0.95" fill="#000"/><circle cx="305.8" cy="230.2" r="0.95" fill="#000"/><circle cx="303.5" cy="232.3" r="0.95" fill="#000"/><circle cx="302.0" cy="218.3" r="0.95" fill="#000"/><circle cx="307.7" cy="217.5" r="0.95" fill="#000"/><circle cx="303.6" cy="228.6" r="0.95" fill="#000"/><circle cx="306.9" cy="234.0" r="0.95" fill="#000"/><circle cx="309.5" cy="222.2" r="0.95" fill="#000"/><circle cx="302.7" cy="221.8" r="0.95" fill="#000"/><circle cx="300.6" cy="222.0" r="0.95" fill="#000"/><circle cx="304.3" cy="222.7" r="0.95" fill="#000"/><circle cx="309.5" cy="222.2" r="0.95" fill="#000"/><circle cx="299.5" cy="229.4" r="0.95" fill="#000"/><circle cx="300.9" cy="221.0" r="0.95" fill="#000"/><circle cx="304.5" cy="221.6" r="0.95" fill="#000"/><circle cx="301.2" cy="222.1" r="0.95" fill="#000"/><circle cx="304.5" cy="229.8" r="0.95" fill="#000"/><circle cx="307.8" cy="227.8" r="0.95" fill="#000"/><circle cx="301.7" cy="224.2" r="0.95" fill="#000"/><circle cx="306.9" cy="230.7" r="0.95" fill="#000"/><circle cx="306.8" cy="222.2" r="0.95" fill="#000"/><circle cx="305.1" cy="222.3" r="0.95" fill="#000"/><circle cx="305.9" cy="227.3" r="0.95" fill="#000"/><circle cx="303.7" cy="218.9" r="0.95" fill="#000"/><circle cx="301.8" cy="229.6" r="0.95" fill="#000"/><circle cx="309.9" cy="229.1" r="0.95" fill="#000"/><circle cx="308.3" cy="228.2" r="0.95" fill="#000"/><circle cx="305.0" cy="227.2" r="0.95" fill="#000"/><circle cx="301.0" cy="222.4" r="0.95" fill="#000"/><circle cx="302.2" cy="227.6" r="0.95" fill="#000"/><circle cx="302.8" cy="222.9" r="0.95" fill="#000"/><circle cx="306.5" cy="231.1" r="0.95" fill="#000"/><circle cx="302.0" cy="218.2" r="0.95" fill="#000"/><circle cx="308.1" cy="217.3" r="0.95" fill="#000"/><circle cx="306.7" cy="220.3" r="0.95" fill="#000"/><circle cx="304.6" cy="213.3" r="0.95" fill="#000"/><circle cx="307.7" cy="220.7" r="0.95" fill="#000"/><circle cx="301.6" cy="235.1" r="0.95" fill="#000"/><circle cx="306.5" cy="221.6" r="0.95" fill="#000"/><circle cx="305.4" cy="232.5" r="0.95" fill="#000"/><circle cx="304.9" cy="226.0" r="0.95" fill="#000"/><circle cx="307.0" cy="218.4" r="0.95" fill="#000"/><circle cx="305.5" cy="220.7" r="0.95" fill="#000"/><circle cx="300.3" cy="228.4" r="0.95" fill="#000"/><circle cx="307.5" cy="223.9" r="0.95" fill="#000"/><circle cx="306.8" cy="223.0" r="0.95" fill="#000"/><circle cx="298.6" cy="223.2" r="0.95" fill="#000"/><circle cx="299.2" cy="223.4" r="0.95" fill="#000"/><circle cx="305.5" cy="225.5" r="0.95" fill="#000"/><circle cx="305.8" cy="224.5" r="0.95" fill="#000"/><circle cx="300.7" cy="221.4" r="0.95" fill="#000"/><circle cx="303.1" cy="222.2" r="0.95" fill="#000"/><circle cx="306.0" cy="227.0" r="0.95" fill="#000"/><circle cx="306.5" cy="222.4" r="0.95" fill="#000"/><circle cx="298.7" cy="225.7" r="0.95" fill="#000"/><circle cx="303.0" cy="229.1" r="0.95" fill="#000"/><circle cx="301.0" cy="222.9" r="0.95" fill="#000"/><circle cx="304.5" cy="223.0" r="0.95" fill="#000"/><circle cx="302.8" cy="213.2" r="0.95" fill="#000"/><circle cx="306.7" cy="229.1" r="0.95" fill="#000"/><circle cx="304.7" cy="217.8" r="0.95" fill="#000"/><circle cx="305.8" cy="226.7" r="0.95" fill="#000"/><circle cx="304.3" cy="223.4" r="0.95" fill="#000"/><circle cx="310.4" cy="217.2" r="0.95" fill="#000"/><circle cx="302.9" cy="212.8" r="0.95" fill="#000"/><circle cx="302.3" cy="219.4" r="0.95" fill="#000"/><circle cx="301.4" cy="219.6" r="0.95" fill="#000"/><circle cx="311.8" cy="222.4" r="0.95" fill="#000"/><circle cx="304.6" cy="235.8" r="0.95" fill="#000"/><circle cx="304.8" cy="213.8" r="0.95" fill="#000"/><circle cx="306.5" cy="218.3" r="0.95" fill="#000"/><circle cx="311.2" cy="216.5" r="0.95" fill="#000"/><circle cx="302.8" cy="214.5" r="0.95" fill="#000"/><circle cx="305.4" cy="217.8" r="0.95" fill="#000"/><circle cx="304.8" cy="221.4" r="0.95" fill="#000"/><circle cx="302.7" cy="228.8" r="0.95" fill="#000"/><circle cx="308.6" cy="223.8" r="0.95" fill="#000"/><circle cx="301.6" cy="217.5" r="0.95" fill="#000"/><circle cx="303.3" cy="219.1" r="0.95" fill="#000"/><circle cx="302.3" cy="217.4" r="0.95" fill="#000"/><circle cx="301.3" cy="222.4" r="0.95" fill="#000"/><circle cx="310.4" cy="223.5" r="0.95" fill="#000"/><circle cx="303.1" cy="214.5" r="0.95" fill="#000"/><circle cx="305.8" cy="223.3" r="0.95" fill="#000"/><circle cx="300.3" cy="217.4" r="0.95" fill="#000"/><circle cx="304.8" cy="229.2" r="0.95" fill="#000"/><circle cx="307.4" cy="224.7" r="0.95" fill="#000"/><circle cx="303.8" cy="225.3" r="0.95" fill="#000"/><circle cx="305.0" cy="235.7" r="0.95" fill="#000"/><circle cx="300.7" cy="221.4" r="0.95" fill="#000"/><circle cx="309.8" cy="222.0" r="0.95" fill="#000"/><circle cx="310.4" cy="223.3" r="0.95" fill="#000"/><circle cx="305.6" cy="221.4" r="0.95" fill="#000"/><circle cx="299.8" cy="218.1" r="0.95" fill="#000"/><circle cx="307.3" cy="228.8" r="0.95" fill="#000"/><circle cx="307.2" cy="229.2" r="0.95" fill="#000"/><circle cx="304.0" cy="222.2" r="0.95" fill="#000"/><circle cx="308.7" cy="221.5" r="0.95" fill="#000"/><circle cx="299.9" cy="222.2" r="0.95" fill="#000"/><circle cx="302.9" cy="226.9" r="0.95" fill="#000"/><circle cx="302.3" cy="217.6" r="0.95" fill="#000"/><circle cx="303.7" cy="232.2" r="0.95" fill="#000"/><circle cx="304.8" cy="224.4" r="0.95" fill="#000"/><circle cx="305.0" cy="225.2" r="0.95" fill="#000"/><circle cx="308.5" cy="231.3" r="0.95" fill="#000"/><circle cx="298.8" cy="231.1" r="0.95" fill="#000"/><circle cx="305.0" cy="221.7" r="0.95" fill="#000"/><circle cx="301.1" cy="226.2" r="0.95" fill="#000"/><circle cx="307.8" cy="222.8" r="0.95" fill="#000"/><circle cx="304.3" cy="217.3" r="0.95" fill="#000"/><circle cx="311.9" cy="222.1" r="0.95" fill="#000"/><circle cx="303.5" cy="221.8" r="0.95" fill="#000"/><circle cx="302.0" cy="219.2" r="0.95" fill="#000"/><circle cx="305.4" cy="225.3" r="0.95" fill="#000"/><circle cx="303.1" cy="223.0" r="0.95" fill="#000"/><circle cx="299.7" cy="226.4" r="0.95" fill="#000"/><circle cx="302.2" cy="224.7" r="0.95" fill="#000"/><circle cx="301.6" cy="220.6" r="0.95" fill="#000"/><circle cx="305.8" cy="216.7" r="0.95" fill="#000"/><circle cx="304.7" cy="219.4" r="0.95" fill="#000"/><circle cx="311.1" cy="231.3" r="0.95" fill="#000"/><circle cx="306.1" cy="215.8" r="0.95" fill="#000"/><circle cx="303.1" cy="226.9" r="0.95" fill="#000"/><circle cx="303.1" cy="216.9" r="0.95" fill="#000"/><circle cx="300.5" cy="219.2" r="0.95" fill="#000"/><circle cx="305.1" cy="219.9" r="0.95" fill="#000"/><circle cx="311.7" cy="217.7" r="0.95" fill="#000"/><circle cx="306.3" cy="224.0" r="0.95" fill="#000"/><circle cx="304.5" cy="229.3" r="0.95" fill="#000"/><circle cx="303.7" cy="221.7" r="0.95" fill="#000"/><circle cx="303.6" cy="222.9" r="0.95" fill="#000"/><circle cx="309.9" cy="227.8" r="0.95" fill="#000"/><circle cx="299.9" cy="221.0" r="0.95" fill="#000"/><circle cx="302.0" cy="228.1" r="0.95" fill="#000"/><circle cx="305.9" cy="228.5" r="0.95" fill="#000"/><circle cx="304.8" cy="212.8" r="0.95" fill="#000"/><circle cx="306.7" cy="224.8" r="0.95" fill="#000"/><circle cx="306.9" cy="216.2" r="0.95" fill="#000"/><circle cx="305.3" cy="219.6" r="0.95" fill="#000"/><circle cx="302.4" cy="225.5" r="0.95" fill="#000"/><circle cx="306.3" cy="218.5" r="0.95" fill="#000"/><circle cx="302.8" cy="229.8" r="0.95" fill="#000"/><circle cx="301.7" cy="225.9" r="0.95" fill="#000"/><circle cx="311.4" cy="230.0" r="0.95" fill="#000"/><circle cx="306.4" cy="224.6" r="0.95" fill="#000"/><circle cx="301.0" cy="221.0" r="0.95" fill="#000"/><circle cx="303.7" cy="219.2" r="0.95" fill="#000"/><circle cx="305.2" cy="221.3" r="0.95" fill="#000"/><circle cx="306.3" cy="231.5" r="0.95" fill="#000"/><circle cx="307.8" cy="225.8" r="0.95" fill="#000"/><circle cx="304.1" cy="215.0" r="0.95" fill="#000"/><circle cx="304.6" cy="226.5" r="0.95" fill="#000"/><circle cx="301.2" cy="230.5" r="0.95" fill="#000"/><circle cx="332.5" cy="224.6" r="0.95" fill="#000"/><circle cx="332.5" cy="215.5" r="0.95" fill="#000"/><circle cx="338.2" cy="219.4" r="0.95" fill="#000"/><circle cx="335.3" cy="218.0" r="0.95" fill="#000"/><circle cx="332.1" cy="227.7" r="0.95" fill="#000"/><circle cx="334.0" cy="227.8" r="0.95" fill="#000"/><circle cx="331.1" cy="226.5" r="0.95" fill="#000"/><circle cx="330.4" cy="225.9" r="0.95" fill="#000"/><circle cx="336.0" cy="229.3" r="0.95" fill="#000"/><circle cx="335.7" cy="215.8" r="0.95" fill="#000"/><circle cx="337.1" cy="216.3" r="0.95" fill="#000"/><circle cx="337.5" cy="231.0" r="0.95" fill="#000"/><circle cx="336.7" cy="219.4" r="0.95" fill="#000"/><circle cx="339.5" cy="223.4" r="0.95" fill="#000"/><circle cx="328.3" cy="220.5" r="0.95" fill="#000"/><circle cx="340.5" cy="220.8" r="0.95" fill="#000"/><circle cx="334.6" cy="220.6" r="0.95" fill="#000"/><circle cx="326.2" cy="219.6" r="0.95" fill="#000"/><circle cx="335.6" cy="223.7" r="0.95" fill="#000"/><circle cx="339.6" cy="226.5" r="0.95" fill="#000"/><circle cx="338.7" cy="229.8" r="0.95" fill="#000"/><circle cx="332.0" cy="219.1" r="0.95" fill="#000"/><circle cx="335.4" cy="231.9" r="0.95" fill="#000"/><circle cx="326.2" cy="221.2" r="0.95" fill="#000"/><circle cx="330.7" cy="225.6" r="0.95" fill="#000"/><circle cx="340.7" cy="220.8" r="0.95" fill="#000"/><circle cx="328.3" cy="222.8" r="0.95" fill="#000"/><circle cx="332.7" cy="213.9" r="0.95" fill="#000"/><circle cx="338.1" cy="219.6" r="0.95" fill="#000"/><circle cx="337.1" cy="215.1" r="0.95" fill="#000"/><circle cx="339.0" cy="214.4" r="0.95" fill="#000"/><circle cx="338.8" cy="212.4" r="0.95" fill="#000"/><circle cx="340.3" cy="220.4" r="0.95" fill="#000"/><circle cx="326.8" cy="221.2" r="0.95" fill="#000"/><circle cx="335.6" cy="217.0" r="0.95" fill="#000"/><circle cx="331.7" cy="224.0" r="0.95" fill="#000"/><circle cx="332.0" cy="224.9" r="0.95" fill="#000"/><circle cx="335.4" cy="228.2" r="0.95" fill="#000"/><circle cx="337.7" cy="224.2" r="0.95" fill="#000"/><circle cx="339.0" cy="227.8" r="0.95" fill="#000"/><circle cx="334.5" cy="219.0" r="0.95" fill="#000"/><circle cx="338.7" cy="224.9" r="0.95" fill="#000"/><circle cx="336.1" cy="223.1" r="0.95" fill="#000"/><circle cx="335.3" cy="226.1" r="0.95" fill="#000"/><circle cx="334.7" cy="231.4" r="0.95" fill="#000"/><circle cx="331.3" cy="220.3" r="0.95" fill="#000"/><circle cx="335.5" cy="226.7" r="0.95" fill="#000"/><circle cx="337.6" cy="230.8" r="0.95" fill="#000"/><circle cx="331.8" cy="229.0" r="0.95" fill="#000"/><circle cx="336.2" cy="216.7" r="0.95" fill="#000"/><circle cx="333.4" cy="234.2" r="0.95" fill="#000"/><circle cx="337.6" cy="219.9" r="0.95" fill="#000"/><circle cx="330.8" cy="222.9" r="0.95" fill="#000"/><circle cx="335.4" cy="217.3" r="0.95" fill="#000"/><circle cx="328.5" cy="221.3" r="0.95" fill="#000"/><circle cx="332.1" cy="219.1" r="0.95" fill="#000"/><circle cx="339.2" cy="222.9" r="0.95" fill="#000"/><circle cx="328.3" cy="229.7" r="0.95" fill="#000"/><circle cx="332.6" cy="215.1" r="0.95" fill="#000"/><circle cx="335.5" cy="225.2" r="0.95" fill="#000"/><circle cx="332.4" cy="226.4" r="0.95" fill="#000"/><circle cx="337.8" cy="217.6" r="0.95" fill="#000"/><circle cx="333.4" cy="229.4" r="0.95" fill="#000"/><circle cx="338.6" cy="230.3" r="0.95" fill="#000"/><circle cx="342.5" cy="222.6" r="0.95" fill="#000"/><circle cx="338.9" cy="213.9" r="0.95" fill="#000"/><circle cx="337.2" cy="224.7" r="0.95" fill="#000"/><circle cx="333.6" cy="220.0" r="0.95" fill="#000"/><circle cx="328.9" cy="223.3" r="0.95" fill="#000"/><circle cx="339.9" cy="220.4" r="0.95" fill="#000"/><circle cx="336.4" cy="218.8" r="0.95" fill="#000"/><circle cx="335.2" cy="216.9" r="0.95" fill="#000"/><circle cx="335.7" cy="221.3" r="0.95" fill="#000"/><circle cx="335.5" cy="219.1" r="0.95" fill="#000"/><circle cx="328.6" cy="220.7" r="0.95" fill="#000"/><circle cx="338.8" cy="231.3" r="0.95" fill="#000"/><circle cx="332.5" cy="227.0" r="0.95" fill="#000"/><circle cx="337.5" cy="224.7" r="0.95" fill="#000"/><circle cx="326.9" cy="224.3" r="0.95" fill="#000"/><circle cx="329.5" cy="229.1" r="0.95" fill="#000"/><circle cx="337.6" cy="226.0" r="0.95" fill="#000"/><circle cx="337.2" cy="215.3" r="0.95" fill="#000"/><circle cx="338.5" cy="222.9" r="0.95" fill="#000"/><circle cx="333.2" cy="218.5" r="0.95" fill="#000"/><circle cx="329.3" cy="220.1" r="0.95" fill="#000"/><circle cx="335.0" cy="218.9" r="0.95" fill="#000"/><circle cx="331.2" cy="219.4" r="0.95" fill="#000"/><circle cx="329.9" cy="227.4" r="0.95" fill="#000"/><circle cx="332.8" cy="227.3" r="0.95" fill="#000"/><circle cx="328.7" cy="227.7" r="0.95" fill="#000"/><circle cx="333.9" cy="226.2" r="0.95" fill="#000"/><circle cx="333.5" cy="217.5" r="0.95" fill="#000"/><circle cx="339.6" cy="220.1" r="0.95" fill="#000"/><circle cx="333.3" cy="217.5" r="0.95" fill="#000"/><circle cx="334.9" cy="220.3" r="0.95" fill="#000"/><circle cx="335.3" cy="224.4" r="0.95" fill="#000"/><circle cx="330.8" cy="214.6" r="0.95" fill="#000"/><circle cx="336.0" cy="227.6" r="0.95" fill="#000"/><circle cx="337.2" cy="216.1" r="0.95" fill="#000"/><circle cx="336.8" cy="224.7" r="0.95" fill="#000"/><circle cx="335.3" cy="224.9" r="0.95" fill="#000"/><circle cx="332.5" cy="223.7" r="0.95" fill="#000"/><circle cx="338.3" cy="219.7" r="0.95" fill="#000"/><circle cx="327.4" cy="221.9" r="0.95" fill="#000"/><circle cx="334.9" cy="212.2" r="0.95" fill="#000"/><circle cx="330.9" cy="225.8" r="0.95" fill="#000"/><circle cx="333.3" cy="223.0" r="0.95" fill="#000"/><circle cx="328.2" cy="227.6" r="0.95" fill="#000"/><circle cx="342.1" cy="221.4" r="0.95" fill="#000"/><circle cx="330.6" cy="216.0" r="0.95" fill="#000"/><circle cx="338.1" cy="223.1" r="0.95" fill="#000"/><circle cx="330.3" cy="229.3" r="0.95" fill="#000"/><circle cx="337.5" cy="225.9" r="0.95" fill="#000"/><circle cx="336.9" cy="215.6" r="0.95" fill="#000"/><circle cx="338.3" cy="230.5" r="0.95" fill="#000"/><circle cx="338.8" cy="218.5" r="0.95" fill="#000"/><circle cx="330.7" cy="227.8" r="0.95" fill="#000"/><circle cx="338.6" cy="229.4" r="0.95" fill="#000"/><circle cx="339.5" cy="221.9" r="0.95" fill="#000"/><circle cx="332.1" cy="212.1" r="0.95" fill="#000"/><circle cx="337.6" cy="235.2" r="0.95" fill="#000"/><circle cx="331.9" cy="219.8" r="0.95" fill="#000"/><circle cx="337.0" cy="224.6" r="0.95" fill="#000"/><circle cx="327.7" cy="218.5" r="0.95" fill="#000"/><circle cx="328.9" cy="233.8" r="0.95" fill="#000"/><circle cx="330.7" cy="227.3" r="0.95" fill="#000"/><circle cx="340.6" cy="231.6" r="0.95" fill="#000"/><circle cx="328.3" cy="220.6" r="0.95" fill="#000"/><circle cx="330.7" cy="220.9" r="0.95" fill="#000"/><circle cx="336.6" cy="215.6" r="0.95" fill="#000"/><circle cx="340.2" cy="229.8" r="0.95" fill="#000"/><circle cx="331.6" cy="234.1" r="0.95" fill="#000"/><circle cx="334.3" cy="229.8" r="0.95" fill="#000"/><circle cx="335.4" cy="219.4" r="0.95" fill="#000"/><circle cx="332.2" cy="221.8" r="0.95" fill="#000"/><circle cx="336.8" cy="223.2" r="0.95" fill="#000"/><circle cx="331.9" cy="218.5" r="0.95" fill="#000"/><circle cx="330.4" cy="214.4" r="0.95" fill="#000"/><circle cx="329.5" cy="227.6" r="0.95" fill="#000"/><circle cx="334.3" cy="221.5" r="0.95" fill="#000"/><circle cx="335.6" cy="228.5" r="0.95" fill="#000"/><circle cx="336.8" cy="226.8" r="0.95" fill="#000"/><circle cx="331.4" cy="221.0" r="0.95" fill="#000"/><circle cx="330.4" cy="222.0" r="0.95" fill="#000"/><circle cx="330.2" cy="220.4" r="0.95" fill="#000"/><circle cx="333.2" cy="221.3" r="0.95" fill="#000"/><circle cx="332.8" cy="219.7" r="0.95" fill="#000"/><circle cx="340.0" cy="220.6" r="0.95" fill="#000"/><circle cx="329.3" cy="223.6" r="0.95" fill="#000"/><circle cx="329.0" cy="216.5" r="0.95" fill="#000"/><circle cx="334.4" cy="213.2" r="0.95" fill="#000"/><circle cx="338.8" cy="213.1" r="0.95" fill="#000"/><circle cx="329.9" cy="225.7" r="0.95" fill="#000"/><circle cx="328.5" cy="221.4" r="0.95" fill="#000"/><circle cx="333.3" cy="224.2" r="0.95" fill="#000"/><circle cx="333.3" cy="215.0" r="0.95" fill="#000"/><circle cx="334.0" cy="217.7" r="0.95" fill="#000"/><circle cx="332.5" cy="221.3" r="0.95" fill="#000"/><circle cx="337.6" cy="226.8" r="0.95" fill="#000"/><circle cx="329.4" cy="222.4" r="0.95" fill="#000"/><circle cx="340.7" cy="225.3" r="0.95" fill="#000"/><circle cx="330.6" cy="221.8" r="0.95" fill="#000"/><circle cx="332.4" cy="227.8" r="0.95" fill="#000"/><circle cx="334.2" cy="224.6" r="0.95" fill="#000"/><circle cx="329.3" cy="212.8" r="0.95" fill="#000"/><circle cx="326.7" cy="227.3" r="0.95" fill="#000"/><circle cx="335.3" cy="231.6" r="0.95" fill="#000"/><circle cx="340.6" cy="228.3" r="0.95" fill="#000"/><circle cx="338.1" cy="227.4" r="0.95" fill="#000"/><circle cx="334.1" cy="222.4" r="0.95" fill="#000"/><circle cx="334.1" cy="227.2" r="0.95" fill="#000"/><circle cx="333.3" cy="224.3" r="0.95" fill="#000"/><circle cx="340.7" cy="216.2" r="0.95" fill="#000"/><circle cx="330.5" cy="225.7" r="0.95" fill="#000"/><circle cx="332.8" cy="221.6" r="0.95" fill="#000"/><circle cx="332.1" cy="228.6" r="0.95" fill="#000"/><circle cx="330.9" cy="223.2" r="0.95" fill="#000"/><circle cx="331.1" cy="234.7" r="0.95" fill="#000"/><circle cx="336.4" cy="220.3" r="0.95" fill="#000"/><circle cx="336.3" cy="218.0" r="0.95" fill="#000"/><circle cx="331.2" cy="223.1" r="0.95" fill="#000"/><circle cx="335.9" cy="230.1" r="0.95" fill="#000"/><circle cx="337.4" cy="233.3" r="0.95" fill="#000"/><circle cx="336.1" cy="223.3" r="0.95" fill="#000"/><circle cx="333.4" cy="217.7" r="0.95" fill="#000"/><circle cx="341.5" cy="215.9" r="0.95" fill="#000"/><circle cx="333.4" cy="219.6" r="0.95" fill="#000"/><circle cx="332.2" cy="223.3" r="0.95" fill="#000"/><circle cx="334.7" cy="227.2" r="0.95" fill="#000"/><circle cx="333.3" cy="218.9" r="0.95" fill="#000"/><circle cx="335.4" cy="226.2" r="0.95" fill="#000"/><circle cx="329.8" cy="214.0" r="0.95" fill="#000"/><circle cx="329.3" cy="228.4" r="0.95" fill="#000"/><circle cx="338.6" cy="217.5" r="0.95" fill="#000"/><circle cx="334.5" cy="227.2" r="0.95" fill="#000"/><circle cx="340.1" cy="218.8" r="0.95" fill="#000"/><circle cx="332.9" cy="230.4" r="0.95" fill="#000"/><circle cx="328.8" cy="225.0" r="0.95" fill="#000"/><circle cx="332.6" cy="222.2" r="0.95" fill="#000"/><circle cx="331.0" cy="219.8" r="0.95" fill="#000"/><circle cx="334.0" cy="232.6" r="0.95" fill="#000"/><circle cx="337.2" cy="224.9" r="0.95" fill="#000"/><circle cx="334.1" cy="218.3" r="0.95" fill="#000"/><circle cx="332.9" cy="229.4" r="0.95" fill="#000"/><circle cx="337.8" cy="233.5" r="0.95" fill="#000"/><circle cx="335.2" cy="222.4" r="0.95" fill="#000"/><circle cx="326.6" cy="224.7" r="0.95" fill="#000"/><circle cx="331.1" cy="222.5" r="0.95" fill="#000"/><circle cx="327.8" cy="219.7" r="0.95" fill="#000"/><circle cx="329.7" cy="228.8" r="0.95" fill="#000"/><circle cx="335.1" cy="215.9" r="0.95" fill="#000"/><circle cx="331.8" cy="216.3" r="0.95" fill="#000"/><circle cx="336.7" cy="221.5" r="0.95" fill="#000"/><circle cx="334.5" cy="219.2" r="0.95" fill="#000"/><circle cx="331.4" cy="219.9" r="0.95" fill="#000"/><circle cx="326.6" cy="226.0" r="0.95" fill="#000"/><circle cx="335.9" cy="212.8" r="0.95" fill="#000"/><circle cx="334.5" cy="229.0" r="0.95" fill="#000"/><circle cx="335.1" cy="229.8" r="0.95" fill="#000"/><circle cx="332.8" cy="222.5" r="0.95" fill="#000"/><circle cx="328.0" cy="217.4" r="0.95" fill="#000"/><circle cx="335.1" cy="225.4" r="0.95" fill="#000"/><circle cx="339.4" cy="223.2" r="0.95" fill="#000"/><circle cx="329.4" cy="224.9" r="0.95" fill="#000"/><circle cx="333.3" cy="232.5" r="0.95" fill="#000"/><circle cx="328.8" cy="219.6" r="0.95" fill="#000"/><circle cx="334.9" cy="218.5" r="0.95" fill="#000"/><circle cx="336.4" cy="226.3" r="0.95" fill="#000"/><circle cx="337.9" cy="223.8" r="0.95" fill="#000"/><circle cx="329.9" cy="217.8" r="0.95" fill="#000"/><circle cx="333.4" cy="229.9" r="0.95" fill="#000"/><circle cx="341.2" cy="228.0" r="0.95" fill="#000"/><circle cx="335.7" cy="226.3" r="0.95" fill="#000"/><circle cx="337.8" cy="229.7" r="0.95" fill="#000"/><circle cx="337.9" cy="213.9" r="0.95" fill="#000"/><circle cx="338.4" cy="224.7" r="0.95" fill="#000"/><circle cx="331.9" cy="225.4" r="0.95" fill="#000"/><circle cx="335.3" cy="222.2" r="0.95" fill="#000"/><circle cx="326.2" cy="223.1" r="0.95" fill="#000"/><circle cx="336.6" cy="222.2" r="0.95" fill="#000"/><circle cx="326.7" cy="225.1" r="0.95" fill="#000"/><circle cx="337.3" cy="223.5" r="0.95" fill="#000"/><circle cx="336.0" cy="220.5" r="0.95" fill="#000"/><circle cx="331.0" cy="225.4" r="0.95" fill="#000"/><circle cx="332.4" cy="223.5" r="0.95" fill="#000"/><circle cx="334.6" cy="213.4" r="0.95" fill="#000"/><circle cx="334.4" cy="226.7" r="0.95" fill="#000"/><circle cx="330.8" cy="221.2" r="0.95" fill="#000"/><circle cx="331.3" cy="226.3" r="0.95" fill="#000"/><circle cx="340.3" cy="221.6" r="0.95" fill="#000"/><circle cx="338.5" cy="223.9" r="0.95" fill="#000"/><circle cx="333.1" cy="220.9" r="0.95" fill="#000"/><circle cx="330.1" cy="229.7" r="0.95" fill="#000"/><circle cx="338.0" cy="216.9" r="0.95" fill="#000"/><circle cx="337.9" cy="218.4" r="0.95" fill="#000"/><circle cx="327.1" cy="229.2" r="0.95" fill="#000"/><circle cx="328.1" cy="229.1" r="0.95" fill="#000"/><circle cx="334.9" cy="227.6" r="0.95" fill="#000"/><circle cx="336.4" cy="229.0" r="0.95" fill="#000"/><circle cx="335.6" cy="225.7" r="0.95" fill="#000"/><circle cx="335.1" cy="228.6" r="0.95" fill="#000"/><circle cx="332.2" cy="228.2" r="0.95" fill="#000"/><circle cx="340.9" cy="222.1" r="0.95" fill="#000"/><circle cx="336.0" cy="219.6" r="0.95" fill="#000"/><circle cx="332.7" cy="224.0" r="0.95" fill="#000"/><circle cx="332.4" cy="217.5" r="0.95" fill="#000"/><circle cx="333.9" cy="223.6" r="0.95" fill="#000"/><circle cx="335.5" cy="226.5" r="0.95" fill="#000"/><circle cx="333.2" cy="218.2" r="0.95" fill="#000"/><circle cx="332.3" cy="225.0" r="0.95" fill="#000"/><circle cx="338.0" cy="220.4" r="0.95" fill="#000"/><circle cx="334.7" cy="213.6" r="0.95" fill="#000"/><circle cx="334.8" cy="221.9" r="0.95" fill="#000"/><circle cx="332.0" cy="227.5" r="0.95" fill="#000"/><circle cx="342.2" cy="228.3" r="0.95" fill="#000"/><circle cx="330.4" cy="231.1" r="0.95" fill="#000"/><circle cx="332.5" cy="222.3" r="0.95" fill="#000"/><circle cx="331.3" cy="225.1" r="0.95" fill="#000"/><circle cx="336.5" cy="223.3" r="0.95" fill="#000"/><circle cx="333.0" cy="221.7" r="0.95" fill="#000"/><circle cx="332.2" cy="227.9" r="0.95" fill="#000"/><circle cx="331.6" cy="221.7" r="0.95" fill="#000"/><circle cx="333.0" cy="218.3" r="0.95" fill="#000"/><circle cx="333.0" cy="214.3" r="0.95" fill="#000"/><circle cx="335.9" cy="225.5" r="0.95" fill="#000"/><circle cx="332.6" cy="231.2" r="0.95" fill="#000"/><circle cx="330.2" cy="225.6" r="0.95" fill="#000"/><circle cx="336.2" cy="219.5" r="0.95" fill="#000"/><circle cx="332.9" cy="227.5" r="0.95" fill="#000"/><circle cx="334.3" cy="224.1" r="0.95" fill="#000"/><circle cx="340.4" cy="223.7" r="0.95" fill="#000"/><circle cx="326.3" cy="218.4" r="0.95" fill="#000"/><circle cx="337.8" cy="221.8" r="0.95" fill="#000"/><circle cx="335.5" cy="230.9" r="0.95" fill="#000"/><circle cx="336.3" cy="219.5" r="0.95" fill="#000"/><circle cx="332.7" cy="220.7" r="0.95" fill="#000"/><circle cx="329.9" cy="225.0" r="0.95" fill="#000"/><circle cx="338.2" cy="224.5" r="0.95" fill="#000"/><circle cx="331.5" cy="228.3" r="0.95" fill="#000"/><circle cx="333.5" cy="225.7" r="0.95" fill="#000"/><circle cx="329.7" cy="226.2" r="0.95" fill="#000"/><circle cx="337.4" cy="229.7" r="0.95" fill="#000"/><circle cx="334.1" cy="225.0" r="0.95" fill="#000"/><circle cx="331.4" cy="227.4" r="0.95" fill="#000"/><circle cx="337.5" cy="228.5" r="0.95" fill="#000"/><circle cx="332.2" cy="215.7" r="0.95" fill="#000"/><circle cx="333.7" cy="221.3" r="0.95" fill="#000"/><circle cx="330.6" cy="225.9" r="0.95" fill="#000"/><circle cx="338.3" cy="224.7" r="0.95" fill="#000"/><circle cx="339.1" cy="224.7" r="0.95" fill="#000"/><circle cx="329.6" cy="219.3" r="0.95" fill="#000"/><circle cx="332.4" cy="226.3" r="0.95" fill="#000"/><circle cx="338.2" cy="223.3" r="0.95" fill="#000"/><circle cx="338.6" cy="218.0" r="0.95" fill="#000"/><circle cx="333.5" cy="230.8" r="0.95" fill="#000"/><circle cx="336.0" cy="228.3" r="0.95" fill="#000"/><circle cx="330.1" cy="228.1" r="0.95" fill="#000"/><circle cx="341.4" cy="219.1" r="0.95" fill="#000"/><circle cx="329.5" cy="216.9" r="0.95" fill="#000"/><circle cx="330.0" cy="225.6" r="0.95" fill="#000"/><circle cx="332.6" cy="232.9" r="0.95" fill="#000"/><circle cx="337.3" cy="218.7" r="0.95" fill="#000"/><circle cx="335.1" cy="221.7" r="0.95" fill="#000"/><circle cx="337.6" cy="227.5" r="0.95" fill="#000"/><circle cx="332.4" cy="227.4" r="0.95" fill="#000"/><circle cx="336.6" cy="222.0" r="0.95" fill="#000"/><circle cx="335.2" cy="226.3" r="0.95" fill="#000"/><circle cx="332.6" cy="218.8" r="0.95" fill="#000"/><circle cx="339.8" cy="222.5" r="0.95" fill="#000"/><circle cx="331.3" cy="225.1" r="0.95" fill="#000"/><circle cx="327.3" cy="222.8" r="0.95" fill="#000"/><circle cx="327.9" cy="220.2" r="0.95" fill="#000"/><circle cx="338.1" cy="221.5" r="0.95" fill="#000"/><circle cx="328.5" cy="232.1" r="0.95" fill="#000"/><circle cx="331.2" cy="230.7" r="0.95" fill="#000"/><circle cx="331.6" cy="214.5" r="0.95" fill="#000"/><circle cx="342.4" cy="220.2" r="0.95" fill="#000"/><circle cx="337.5" cy="229.1" r="0.95" fill="#000"/><circle cx="328.1" cy="222.9" r="0.95" fill="#000"/><circle cx="331.4" cy="225.9" r="0.95" fill="#000"/><circle cx="334.0" cy="215.6" r="0.95" fill="#000"/><circle cx="334.3" cy="226.7" r="0.95" fill="#000"/><circle cx="332.7" cy="225.6" r="0.95" fill="#000"/><circle cx="331.6" cy="222.2" r="0.95" fill="#000"/><circle cx="335.6" cy="223.3" r="0.95" fill="#000"/><circle cx="339.8" cy="227.7" r="0.95" fill="#000"/><circle cx="337.8" cy="226.5" r="0.95" fill="#000"/><circle cx="334.7" cy="216.2" r="0.95" fill="#000"/><circle cx="338.8" cy="232.1" r="0.95" fill="#000"/><circle cx="335.0" cy="221.1" r="0.95" fill="#000"/><circle cx="263.9" cy="224.7" r="0.95" fill="#000"/><circle cx="289.2" cy="227.6" r="0.95" fill="#000"/><circle cx="293.8" cy="228.4" r="0.95" fill="#000"/><circle cx="297.8" cy="234.1" r="0.95" fill="#000"/><circle cx="293.5" cy="228.1" r="0.95" fill="#000"/><circle cx="344.2" cy="222.9" r="0.95" fill="#000"/><circle cx="346.0" cy="226.4" r="0.95" fill="#000"/><circle cx="343.8" cy="215.0" r="0.95" fill="#000"/><circle cx="345.5" cy="219.0" r="0.95" fill="#000"/><circle cx="297.9" cy="234.2" r="0.95" fill="#000"/><circle cx="300.0" cy="236.5" r="0.95" fill="#000"/><circle cx="311.0" cy="236.3" r="0.95" fill="#000"/><circle cx="304.9" cy="187.0" r="0.95" fill="#c4101a"/><circle cx="311.0" cy="192.2" r="0.95" fill="#c4101a"/><circle cx="310.1" cy="196.6" r="0.95" fill="#c4101a"/><circle cx="304.0" cy="201.9" r="0.95" fill="#c4101a"/><circle cx="307.5" cy="204.5" r="0.95" fill="#c4101a"/><circle cx="311.0" cy="204.5" r="0.95" fill="#c4101a"/><circle cx="305.7" cy="208.9" r="0.95" fill="#c4101a"/><circle cx="303.1" cy="207.1" r="0.95" fill="#c4101a"/><circle cx="327.6" cy="210.6" r="0.95" fill="#c4101a"/><circle cx="330.2" cy="236.0" r="0.95" fill="#c4101a"/><circle cx="332.0" cy="236.8" r="0.95" fill="#c4101a"/><circle cx="329.4" cy="240.3" r="0.95" fill="#c4101a"/><circle cx="327.6" cy="243.8" r="0.95" fill="#c4101a"/><circle cx="332.9" cy="242.1" r="0.95" fill="#c4101a"/><circle cx="335.5" cy="239.5" r="0.95" fill="#c4101a"/><circle cx="329.4" cy="246.5" r="0.95" fill="#c4101a"/><circle cx="332.0" cy="249.1" r="0.95" fill="#c4101a"/><circle cx="328.5" cy="251.7" r="0.95" fill="#c4101a"/><circle cx="332.0" cy="255.2" r="0.95" fill="#c4101a"/><circle cx="327.6" cy="264.0" r="0.95" fill="#c4101a"/><circle cx="331.6" cy="267.5" r="0.95" fill="#c4101a"/><circle cx="337.2" cy="211.5" r="0.95" fill="#c4101a"/><circle cx="334.6" cy="232.5" r="0.95" fill="#c4101a"/><circle cx="309.0" cy="212.0" r="0.95" fill="#c4101a"/><circle cx="313.0" cy="210.0" r="0.95" fill="#c4101a"/><circle cx="306.0" cy="215.0" r="0.95" fill="#c4101a"/><circle cx="330.0" cy="230.0" r="0.95" fill="#c4101a"/><circle cx="336.0" cy="227.0" r="0.95" fill="#c4101a"/><line x1="264" y1="218.5" x2="335.6" y2="223.4" stroke="#000" stroke-width="1.4"/><line x1="303.5" y1="200.4" x2="335.8" y2="246.6" stroke="#c4101a" stroke-width="1.4"/><text x="305.9" y="177.8" font-size="8.4" text-anchor="middle" fill="#282828" textLength="28" lengthAdjust="spacingAndGlyphs" stroke="#282828" stroke-width="0.22">c-ARDs</text><text x="232.6" y="224" font-size="8.4" text-anchor="middle" fill="#111" font-weight="bold" textLength="61.1" lengthAdjust="spacingAndGlyphs" transform="rotate(-90 232.6 224)">Δ DNA methylation</text><text x="209.2" y="197.0" font-size="7.3" text-anchor="middle" fill="#404040" textLength="33.7" lengthAdjust="spacingAndGlyphs" transform="rotate(-90 209.2 197.0)" stroke="#404040" stroke-width="0.22">mat. most</text><text x="217.9" y="197.4" font-size="7.3" text-anchor="middle" fill="#404040" textLength="38.7" lengthAdjust="spacingAndGlyphs" transform="rotate(-90 217.9 197.4)" stroke="#404040" stroke-width="0.22">methylated</text><text x="209.2" y="257.1" font-size="7.3" text-anchor="middle" fill="#404040" textLength="35.5" lengthAdjust="spacingAndGlyphs" transform="rotate(-90 209.2 257.1)" stroke="#404040" stroke-width="0.22">mat. least</text><text x="217.9" y="257.1" font-size="7.3" text-anchor="middle" fill="#404040" textLength="39" lengthAdjust="spacingAndGlyphs" transform="rotate(-90 217.9 257.1)" stroke="#404040" stroke-width="0.22">methylated</text><line x1="212.2" y1="218.9" x2="212.2" y2="230.5" stroke="#000" stroke-width="1.4"/><polygon points="212.2,236.2 209.7,230.0 214.7,230.0" fill="#000"/><text x="306.5" y="303" font-size="8.4" text-anchor="middle" fill="#111" font-weight="bold" textLength="60.3" lengthAdjust="spacingAndGlyphs">Δ replication timing</text><text x="254.7" y="314.8" font-size="7.4" text-anchor="start" fill="#404040" textLength="36.6" lengthAdjust="spacingAndGlyphs" stroke="#404040" stroke-width="0.22">mat. latest</text><line x1="294.4" y1="313.2" x2="305.8" y2="313.2" stroke="#000" stroke-width="1.4"/><polygon points="311.3,313.2 305.3,315.8 305.3,310.6" fill="#000"/><text x="314.5" y="314.8" font-size="7.4" text-anchor="start" fill="#404040" textLength="41.3" lengthAdjust="spacingAndGlyphs" stroke="#404040" stroke-width="0.22">mat. earliest</text><line x1="277.9" y1="329.4" x2="281" y2="329.4" stroke="#000" stroke-width="1.6"/><text x="284.6" y="331.4" font-size="7.2" text-anchor="start" fill="#404040" textLength="49.1" lengthAdjust="spacingAndGlyphs" stroke="#404040" stroke-width="0.22">adj. r<tspan font-size="4.8" dy="-2.8">2</tspan><tspan dy="2.8"> = 0.028</tspan></text><line x1="277.9" y1="339.2" x2="281" y2="339.2" stroke="#c4101a" stroke-width="1.6"/><text x="284.6" y="341.3" font-size="7.2" text-anchor="start" fill="#b02535" textLength="49.1" lengthAdjust="spacingAndGlyphs" stroke="#b02535" stroke-width="0.22">adj. r<tspan font-size="4.8" dy="-2.8">2</tspan><tspan dy="2.8"> = 0.603</tspan></text><text x="360.9" y="164.1" font-size="11.2" text-anchor="start" fill="#000" font-weight="bold">E</text><line x1="418.9" y1="183" x2="418.9" y2="272.7" stroke="#000" stroke-width="1.3"/><line x1="418.29999999999995" y1="272" x2="507.6" y2="272" stroke="#000" stroke-width="1.3"/><line x1="415.8" y1="200.39999999999998" x2="418.9" y2="200.39999999999998" stroke="#000" stroke-width="1"/><text x="412.9" y="202.89999999999998" font-size="7.3" text-anchor="end" fill="#282828" textLength="11.7" lengthAdjust="spacingAndGlyphs" stroke="#282828" stroke-width="0.22">0.2</text><line x1="415.8" y1="227.6" x2="418.9" y2="227.6" stroke="#000" stroke-width="1"/><text x="412.9" y="230.1" font-size="7.3" text-anchor="end" fill="#282828" textLength="11.7" lengthAdjust="spacingAndGlyphs" stroke="#282828" stroke-width="0.22">0.0</text><line x1="415.8" y1="254.8" x2="418.9" y2="254.8" stroke="#000" stroke-width="1"/><text x="412.9" y="257.3" font-size="7.3" text-anchor="end" fill="#282828" textLength="17" lengthAdjust="spacingAndGlyphs" stroke="#282828" stroke-width="0.22">−0.2</text><line x1="436.5" y1="272" x2="436.5" y2="275.2" stroke="#000" stroke-width="1"/><text x="434.2" y="286" font-size="7.3" text-anchor="middle" fill="#282828" textLength="16.1" lengthAdjust="spacingAndGlyphs" stroke="#282828" stroke-width="0.22">−0.2</text><line x1="463.4" y1="272" x2="463.4" y2="275.2" stroke="#000" stroke-width="1"/><text x="463.4" y="286" font-size="7.3" text-anchor="middle" fill="#282828" textLength="10.7" lengthAdjust="spacingAndGlyphs" stroke="#282828" stroke-width="0.22">0.0</text><line x1="490.29999999999995" y1="272" x2="490.29999999999995" y2="275.2" stroke="#000" stroke-width="1"/><text x="490.29999999999995" y="286" font-size="7.3" text-anchor="middle" fill="#282828" textLength="10.8" lengthAdjust="spacingAndGlyphs" stroke="#282828" stroke-width="0.22">0.2</text><line x1="420.9" y1="227.6" x2="507.5" y2="227.6" stroke="#000" stroke-width="1.0" stroke-dasharray="1.2 1.6"/><line x1="463.4" y1="184" x2="463.4" y2="271.3" stroke="#000" stroke-width="1.0" stroke-dasharray="1.2 1.6"/><circle cx="439.0" cy="190.9" r="1.0" fill="#c4101a"/><circle cx="440.4" cy="205.0" r="1.0" fill="#c4101a"/><circle cx="446.9" cy="207.7" r="1.0" fill="#c4101a"/><circle cx="448.6" cy="210.6" r="1.0" fill="#c4101a"/><circle cx="437.3" cy="210.1" r="1.0" fill="#c4101a"/><circle cx="432.9" cy="216.8" r="1.0" fill="#c4101a"/><circle cx="446.0" cy="224.6" r="1.0" fill="#c4101a"/><circle cx="447.4" cy="225.9" r="1.0" fill="#c4101a"/><circle cx="448.6" cy="226.4" r="1.0" fill="#c4101a"/><circle cx="477.5" cy="208.9" r="1.0" fill="#c4101a"/><circle cx="493.3" cy="231.1" r="1.0" fill="#c4101a"/><circle cx="493.8" cy="234.6" r="1.0" fill="#c4101a"/><circle cx="477.5" cy="235.1" r="1.0" fill="#c4101a"/><circle cx="480.1" cy="236.0" r="1.0" fill="#c4101a"/><circle cx="479.3" cy="241.6" r="1.0" fill="#c4101a"/><circle cx="481.9" cy="248.3" r="1.0" fill="#c4101a"/><circle cx="480.1" cy="250.9" r="1.0" fill="#c4101a"/><circle cx="478.0" cy="261.4" r="1.0" fill="#c4101a"/><circle cx="476.6" cy="234.3" r="1.0" fill="#c4101a"/><circle cx="461.8" cy="226.4" r="1.0" fill="#c4101a"/><circle cx="445.0" cy="223.8" r="1.0" fill="#c4101a"/><circle cx="449.5" cy="222.0" r="1.0" fill="#c4101a"/><circle cx="475.8" cy="202.8" r="1.0" fill="#000"/><circle cx="471.4" cy="218.5" r="1.0" fill="#000"/><circle cx="472.3" cy="220.3" r="1.0" fill="#000"/><circle cx="470.5" cy="222.9" r="1.0" fill="#000"/><circle cx="474.0" cy="223.8" r="1.0" fill="#000"/><circle cx="475.8" cy="224.6" r="1.0" fill="#000"/><circle cx="471.4" cy="226.4" r="1.0" fill="#000"/><circle cx="474.9" cy="229.0" r="1.0" fill="#000"/><circle cx="474.0" cy="231.6" r="1.0" fill="#000"/><circle cx="474.9" cy="232.5" r="1.0" fill="#000"/><circle cx="456.5" cy="226.4" r="1.0" fill="#000"/><circle cx="455.6" cy="228.1" r="1.0" fill="#000"/><circle cx="451.3" cy="230.8" r="1.0" fill="#000"/><circle cx="453.0" cy="232.5" r="1.0" fill="#000"/><circle cx="454.8" cy="232.2" r="1.0" fill="#000"/><circle cx="455.6" cy="237.8" r="1.0" fill="#000"/><circle cx="474.0" cy="241.6" r="1.0" fill="#000"/><circle cx="475.8" cy="254.9" r="1.0" fill="#000"/><circle cx="460.0" cy="225.9" r="1.0" fill="#000"/><circle cx="473.0" cy="218.0" r="1.0" fill="#000"/><circle cx="476.5" cy="221.0" r="1.0" fill="#000"/><circle cx="452.0" cy="231.6" r="1.0" fill="#000"/><circle cx="457.0" cy="230.0" r="1.0" fill="#000"/><line x1="432.9" y1="215.4" x2="496.8" y2="240.9" stroke="#000" stroke-width="1.4"/><line x1="432.9" y1="210.4" x2="496.8" y2="243.4" stroke="#c4101a" stroke-width="1.4"/><text x="463.4" y="177.7" font-size="8.4" text-anchor="middle" fill="#282828" textLength="29.3" lengthAdjust="spacingAndGlyphs" stroke="#282828" stroke-width="0.22">a-DMRs</text><text x="391.5" y="226.9" font-size="8.4" text-anchor="middle" fill="#111" font-weight="bold" textLength="59.2" lengthAdjust="spacingAndGlyphs" transform="rotate(-90 391.5 226.9)">Δ replication timing</text><text x="378.7" y="198" font-size="7.3" text-anchor="middle" fill="#404040" textLength="44.2" lengthAdjust="spacingAndGlyphs" transform="rotate(-90 378.7 198)" stroke="#404040" stroke-width="0.22">mat. earliest</text><text x="378.7" y="259.7" font-size="7.3" text-anchor="middle" fill="#404040" textLength="38.5" lengthAdjust="spacingAndGlyphs" transform="rotate(-90 378.7 259.7)" stroke="#404040" stroke-width="0.22">mat. latest</text><line x1="376.1" y1="222.3" x2="376.1" y2="232.60000000000002" stroke="#000" stroke-width="1.4"/><polygon points="376.1,238.3 373.6,232.1 378.6,232.1" fill="#000"/><text x="463.6" y="296.8" font-size="8.4" text-anchor="middle" fill="#111" font-weight="bold" textLength="58.2" lengthAdjust="spacingAndGlyphs">Δ DNA methylation</text><text x="413.1" y="311.4" font-size="7.5" text-anchor="start" fill="#404040" textLength="34.3" lengthAdjust="spacingAndGlyphs" stroke="#404040" stroke-width="0.22">mat. least</text><text x="413.1" y="320.8" font-size="7.5" text-anchor="start" fill="#404040" textLength="38.4" lengthAdjust="spacingAndGlyphs" stroke="#404040" stroke-width="0.22">methylated</text><line x1="455.3" y1="313.5" x2="466.4" y2="313.5" stroke="#000" stroke-width="1.4"/><polygon points="471.9,313.5 465.9,316.1 465.9,310.9" fill="#000"/><text x="474.8" y="311.4" font-size="7.5" text-anchor="start" fill="#404040" textLength="34.5" lengthAdjust="spacingAndGlyphs" stroke="#404040" stroke-width="0.22">mat. most</text><text x="474.8" y="320.8" font-size="7.5" text-anchor="start" fill="#404040" textLength="38" lengthAdjust="spacingAndGlyphs" stroke="#404040" stroke-width="0.22">methylated</text><line x1="435.3" y1="334.3" x2="438.7" y2="334.3" stroke="#000" stroke-width="1.6"/><text x="442.2" y="336.3" font-size="7.2" text-anchor="start" fill="#404040" textLength="48.8" lengthAdjust="spacingAndGlyphs" stroke="#404040" stroke-width="0.22">adj. r<tspan font-size="4.8" dy="-2.8">2</tspan><tspan dy="2.8"> = 0.219</tspan></text><line x1="435.3" y1="344" x2="438.7" y2="344" stroke="#c4101a" stroke-width="1.6"/><text x="442.2" y="346.1" font-size="7.2" text-anchor="start" fill="#b02535" textLength="48.4" lengthAdjust="spacingAndGlyphs" stroke="#b02535" stroke-width="0.22">adj. r<tspan font-size="4.8" dy="-2.8">2</tspan><tspan dy="2.8"> = 0.462</tspan></text><text x="8.1" y="372.9" font-size="11.2" text-anchor="start" fill="#000" font-weight="bold">F</text><text x="26.0" y="438.8" font-size="9.6" text-anchor="middle" fill="#111" font-weight="bold" textLength="16.8" lengthAdjust="spacingAndGlyphs" transform="rotate(-90 26.0 438.8)">Count</text><text x="60.75" y="393.4" font-size="7.4" text-anchor="middle" fill="#282828" textLength="26.1" lengthAdjust="spacingAndGlyphs" stroke="#282828" stroke-width="0.22">Cycling</text><text x="93.8" y="393.4" font-size="7.4" text-anchor="start" fill="#282828" textLength="53.1" lengthAdjust="spacingAndGlyphs" stroke="#282828" stroke-width="0.22">G<tspan font-size="4.8" dy="1.6">0</tspan><tspan dy="-1.6">/G</tspan><tspan font-size="4.8" dy="1.6">1</tspan><tspan dy="-1.6"> blocked</tspan></text><text x="88.8" y="492" font-size="8.4" text-anchor="middle" fill="#111" font-weight="bold" textLength="49.2" lengthAdjust="spacingAndGlyphs">DNA content(PI)</text><path d="M34.5,477.3 L37,476.4 L40.5,477.3 L46.6,477.3 L47.5,472 L48.4,447.5 L49.6,421.3 L50.3,415.1 L51,421.3 L51.9,430 L52.8,438.8 L53.6,437.9 L54.5,445.8 L55.9,451 L57.1,447.5 L58.9,448.4 L60.6,446.7 L61.9,452.8 L63.3,447.5 L65,448.4 L65.9,444.9 L66.8,447.5 L67.7,456.3 L69.4,463.3 L71.2,468.6 L72.9,471.2 L75.5,473.8 L78.2,475.6 L80.8,476.4 L84.3,476.4 L86,477.3 L86.9,472 L87.3,477.5 L87.3,478 L34.5,478 Z" fill="#4a4fa0" stroke="none"/><polyline points="34.5,477.3 37.0,476.4 40.5,477.3 46.6,477.3 47.5,472.0 48.4,447.5 49.6,421.3 50.3,415.1 51.0,421.3 51.9,430.0 52.8,438.8 53.6,437.9 54.5,445.8 55.9,451.0 57.1,447.5 58.9,448.4 60.6,446.7 61.9,452.8 63.3,447.5 65.0,448.4 65.9,444.9 66.8,447.5 67.7,456.3 69.4,463.3 71.2,468.6 72.9,471.2 75.5,473.8 78.2,475.6 80.8,476.4 84.3,476.4 86.0,477.3 86.9,472.0 87.3,477.5" fill="none" stroke="#000" stroke-width="1.0" stroke-linejoin="round"/><path d="M94.2,477.5 L103.2,477.5 L104.1,468.6 L105.5,438.3 L107.2,410.3 L108.3,422 L109.5,440.6 L111.1,457 L113,466.3 L115.3,474.5 L117.7,476.1 L122.3,476.8 L127,477.5 L147,477.5 Z" fill="#c8141e" stroke="none"/><polyline points="94.2,477.5 103.2,477.5 104.1,468.6 105.5,438.3 107.2,410.3 108.3,422.0 109.5,440.6 111.1,457.0 113.0,466.3 115.3,474.5 117.7,476.1 122.3,476.8 127.0,477.5 147.0,477.5" fill="none" stroke="#000" stroke-width="1.0" stroke-linejoin="round"/><rect x="33.9" y="398.5" width="53.9" height="79.6" fill="none" stroke="#000" stroke-width="1.2"/><line x1="31.7" y1="402.9" x2="33.9" y2="402.9" stroke="#000" stroke-width="0.7"/><line x1="32.699999999999996" y1="407.64166666666665" x2="33.9" y2="407.64166666666665" stroke="#000" stroke-width="0.7"/><line x1="32.699999999999996" y1="412.3833333333333" x2="33.9" y2="412.3833333333333" stroke="#000" stroke-width="0.7"/><line x1="31.7" y1="417.125" x2="33.9" y2="417.125" stroke="#000" stroke-width="0.7"/><line x1="32.699999999999996" y1="421.8666666666667" x2="33.9" y2="421.8666666666667" stroke="#000" stroke-width="0.7"/><line x1="32.699999999999996" y1="426.60833333333335" x2="33.9" y2="426.60833333333335" stroke="#000" stroke-width="0.7"/><line x1="31.7" y1="431.35" x2="33.9" y2="431.35" stroke="#000" stroke-width="0.7"/><line x1="32.699999999999996" y1="436.09166666666664" x2="33.9" y2="436.09166666666664" stroke="#000" stroke-width="0.7"/><line x1="32.699999999999996" y1="440.8333333333333" x2="33.9" y2="440.8333333333333" stroke="#000" stroke-width="0.7"/><line x1="31.7" y1="445.575" x2="33.9" y2="445.575" stroke="#000" stroke-width="0.7"/><line x1="32.699999999999996" y1="450.31666666666666" x2="33.9" y2="450.31666666666666" stroke="#000" stroke-width="0.7"/><line x1="32.699999999999996" y1="455.05833333333334" x2="33.9" y2="455.05833333333334" stroke="#000" stroke-width="0.7"/><line x1="31.7" y1="459.8" x2="33.9" y2="459.8" stroke="#000" stroke-width="0.7"/><line x1="32.699999999999996" y1="464.5416666666667" x2="33.9" y2="464.5416666666667" stroke="#000" stroke-width="0.7"/><line x1="32.699999999999996" y1="469.28333333333336" x2="33.9" y2="469.28333333333336" stroke="#000" stroke-width="0.7"/><line x1="31.7" y1="474.02500000000003" x2="33.9" y2="474.02500000000003" stroke="#000" stroke-width="0.7"/><line x1="36.699999999999996" y1="478.1" x2="36.699999999999996" y2="481.1" stroke="#000" stroke-width="0.8"/><line x1="43.24999999999999" y1="478.1" x2="43.24999999999999" y2="479.70000000000005" stroke="#000" stroke-width="0.8"/><line x1="49.8" y1="478.1" x2="49.8" y2="481.1" stroke="#000" stroke-width="0.8"/><line x1="56.349999999999994" y1="478.1" x2="56.349999999999994" y2="479.70000000000005" stroke="#000" stroke-width="0.8"/><line x1="62.89999999999999" y1="478.1" x2="62.89999999999999" y2="481.1" stroke="#000" stroke-width="0.8"/><line x1="69.44999999999999" y1="478.1" x2="69.44999999999999" y2="479.70000000000005" stroke="#000" stroke-width="0.8"/><line x1="76.0" y1="478.1" x2="76.0" y2="481.1" stroke="#000" stroke-width="0.8"/><line x1="82.55" y1="478.1" x2="82.55" y2="479.70000000000005" stroke="#000" stroke-width="0.8"/><rect x="93.6" y="398.5" width="53.900000000000006" height="79.6" fill="none" stroke="#000" stroke-width="1.2"/><line x1="91.39999999999999" y1="402.9" x2="93.6" y2="402.9" stroke="#000" stroke-width="0.7"/><line x1="92.39999999999999" y1="407.64166666666665" x2="93.6" y2="407.64166666666665" stroke="#000" stroke-width="0.7"/><line x1="92.39999999999999" y1="412.3833333333333" x2="93.6" y2="412.3833333333333" stroke="#000" stroke-width="0.7"/><line x1="91.39999999999999" y1="417.125" x2="93.6" y2="417.125" stroke="#000" stroke-width="0.7"/><line x1="92.39999999999999" y1="421.8666666666667" x2="93.6" y2="421.8666666666667" stroke="#000" stroke-width="0.7"/><line x1="92.39999999999999" y1="426.60833333333335" x2="93.6" y2="426.60833333333335" stroke="#000" stroke-width="0.7"/><line x1="91.39999999999999" y1="431.35" x2="93.6" y2="431.35" stroke="#000" stroke-width="0.7"/><line x1="92.39999999999999" y1="436.09166666666664" x2="93.6" y2="436.09166666666664" stroke="#000" stroke-width="0.7"/><line x1="92.39999999999999" y1="440.8333333333333" x2="93.6" y2="440.8333333333333" stroke="#000" stroke-width="0.7"/><line x1="91.39999999999999" y1="445.575" x2="93.6" y2="445.575" stroke="#000" stroke-width="0.7"/><line x1="92.39999999999999" y1="450.31666666666666" x2="93.6" y2="450.31666666666666" stroke="#000" stroke-width="0.7"/><line x1="92.39999999999999" y1="455.05833333333334" x2="93.6" y2="455.05833333333334" stroke="#000" stroke-width="0.7"/><line x1="91.39999999999999" y1="459.8" x2="93.6" y2="459.8" stroke="#000" stroke-width="0.7"/><line x1="92.39999999999999" y1="464.5416666666667" x2="93.6" y2="464.5416666666667" stroke="#000" stroke-width="0.7"/><line x1="92.39999999999999" y1="469.28333333333336" x2="93.6" y2="469.28333333333336" stroke="#000" stroke-width="0.7"/><line x1="91.39999999999999" y1="474.02500000000003" x2="93.6" y2="474.02500000000003" stroke="#000" stroke-width="0.7"/><line x1="96.39999999999999" y1="478.1" x2="96.39999999999999" y2="481.1" stroke="#000" stroke-width="0.8"/><line x1="102.94999999999999" y1="478.1" x2="102.94999999999999" y2="479.70000000000005" stroke="#000" stroke-width="0.8"/><line x1="109.49999999999999" y1="478.1" x2="109.49999999999999" y2="481.1" stroke="#000" stroke-width="0.8"/><line x1="116.04999999999998" y1="478.1" x2="116.04999999999998" y2="479.70000000000005" stroke="#000" stroke-width="0.8"/><line x1="122.6" y1="478.1" x2="122.6" y2="481.1" stroke="#000" stroke-width="0.8"/><line x1="129.14999999999998" y1="478.1" x2="129.14999999999998" y2="479.70000000000005" stroke="#000" stroke-width="0.8"/><line x1="135.7" y1="478.1" x2="135.7" y2="481.1" stroke="#000" stroke-width="0.8"/><line x1="142.25" y1="478.1" x2="142.25" y2="479.70000000000005" stroke="#000" stroke-width="0.8"/><text x="163.9" y="373.3" font-size="11.2" text-anchor="start" fill="#000" font-weight="bold">G</text><text x="183.3" y="439.8" font-size="7.4" text-anchor="middle" fill="#1e1e1e" textLength="49.4" lengthAdjust="spacingAndGlyphs" transform="rotate(-90 183.3 439.8)" stroke="#1e1e1e" stroke-width="0.3">CpG methylation</text><line x1="215.8" y1="405.5" x2="215.8" y2="479.2" stroke="#000" stroke-width="1.3"/><line x1="215.20000000000002" y1="478.6" x2="259" y2="478.6" stroke="#000" stroke-width="1.3"/><line x1="212.9" y1="475.1" x2="215.8" y2="475.1" stroke="#000" stroke-width="1"/><text x="206.4" y="477.6" font-size="7.2" text-anchor="end" fill="#282828" textLength="16.3" lengthAdjust="spacingAndGlyphs" stroke="#282828" stroke-width="0.22">0.00</text><line x1="212.9" y1="458.25" x2="215.8" y2="458.25" stroke="#000" stroke-width="1"/><text x="206.4" y="460.75" font-size="7.2" text-anchor="end" fill="#282828" textLength="16.3" lengthAdjust="spacingAndGlyphs" stroke="#282828" stroke-width="0.22">0.25</text><line x1="212.9" y1="441.40000000000003" x2="215.8" y2="441.40000000000003" stroke="#000" stroke-width="1"/><text x="206.4" y="443.90000000000003" font-size="7.2" text-anchor="end" fill="#282828" textLength="16.3" lengthAdjust="spacingAndGlyphs" stroke="#282828" stroke-width="0.22">0.50</text><line x1="212.9" y1="424.55" x2="215.8" y2="424.55" stroke="#000" stroke-width="1"/><text x="206.4" y="427.05" font-size="7.2" text-anchor="end" fill="#282828" textLength="16.3" lengthAdjust="spacingAndGlyphs" stroke="#282828" stroke-width="0.22">0.75</text><line x1="212.9" y1="407.70000000000005" x2="215.8" y2="407.70000000000005" stroke="#000" stroke-width="1"/><text x="206.4" y="410.20000000000005" font-size="7.2" text-anchor="end" fill="#282828" textLength="16.3" lengthAdjust="spacingAndGlyphs" stroke="#282828" stroke-width="0.22">1.00</text><line x1="228" y1="478.6" x2="228" y2="481.4" stroke="#000" stroke-width="1"/><line x1="247.4" y1="478.6" x2="247.4" y2="481.4" stroke="#000" stroke-width="1"/><line x1="227.9" y1="407.7" x2="227.9" y2="461.6" stroke="#000" stroke-width="1.1"/><rect x="223.1" y="410.2" width="9.8" height="20.7" fill="#4450a0"/><line x1="223.1" y1="415.2" x2="232.9" y2="415.2" stroke="#111" stroke-width="1.7"/><line x1="247.2" y1="407.7" x2="247.2" y2="461.6" stroke="#000" stroke-width="1.1"/><rect x="242.39999999999998" y="410.2" width="9.8" height="20.7" fill="#cc161c"/><line x1="242.39999999999998" y1="415.2" x2="252.2" y2="415.2" stroke="#111" stroke-width="1.7"/><polyline points="227.9,404.7 227.9,400.2 247.2,400.2 247.2,404.7" fill="none" stroke="#000" stroke-width="1.0" stroke-linejoin="round"/><text x="237.6" y="399.8" font-size="6.2" text-anchor="middle" fill="#000" stroke="#000" stroke-width="0.22">***</text><text x="229.9" y="488.6" font-size="7.5" text-anchor="end" fill="#282828" transform="rotate(-45 229.9 488.6)" stroke="#282828" stroke-width="0.22">Cycling</text><text x="250.6" y="488.0" font-size="7.9" text-anchor="end" fill="#282828" transform="rotate(-45 250.6 488.0)" stroke="#282828" stroke-width="0.22">G<tspan font-size="4.8" dy="1.6">0</tspan><tspan dy="-1.6">/G</tspan><tspan font-size="4.8" dy="1.6">1</tspan></text><text x="275.4" y="372.6" font-size="11.2" text-anchor="start" fill="#000" font-weight="bold">H</text><line x1="287.9" y1="383.6" x2="291.6" y2="383.6" stroke="#3a48a0" stroke-width="1.7"/><text x="295.8" y="386.4" font-size="7.6" text-anchor="start" fill="#282828" textLength="24.2" lengthAdjust="spacingAndGlyphs" stroke="#282828" stroke-width="0.22">Cycling</text><line x1="324.2" y1="383.6" x2="328.3" y2="383.6" stroke="#c8141e" stroke-width="1.7"/><text x="331.8" y="386.4" font-size="7.6" text-anchor="start" fill="#282828" textLength="20.7" lengthAdjust="spacingAndGlyphs" stroke="#282828" stroke-width="0.22">G<tspan font-size="4.8" dy="1.6">0</tspan><tspan dy="-1.6">/G</tspan><tspan font-size="4.8" dy="1.6">1</tspan></text><text x="294.0" y="436.6" font-size="7.8" text-anchor="middle" fill="#1e1e1e" textLength="62.6" lengthAdjust="spacingAndGlyphs" transform="rotate(-90 294.0 436.6)" stroke="#1e1e1e" stroke-width="0.3">Relative frequencies</text><line x1="318.7" y1="395.5" x2="318.7" y2="478.8" stroke="#000" stroke-width="1.3"/><line x1="318.09999999999997" y1="478.3" x2="353.6" y2="478.3" stroke="#000" stroke-width="1.3"/><line x1="314.8" y1="474.6" x2="318.7" y2="474.6" stroke="#000" stroke-width="1"/><text x="312.8" y="477.1" font-size="7.2" text-anchor="end" fill="#282828" textLength="9.9" lengthAdjust="spacingAndGlyphs" stroke="#282828" stroke-width="0.22">0.0</text><line x1="314.8" y1="449.12" x2="318.7" y2="449.12" stroke="#000" stroke-width="1"/><text x="312.8" y="451.62" font-size="7.2" text-anchor="end" fill="#282828" textLength="9.9" lengthAdjust="spacingAndGlyphs" stroke="#282828" stroke-width="0.22">0.2</text><line x1="314.8" y1="423.64" x2="318.7" y2="423.64" stroke="#000" stroke-width="1"/><text x="312.8" y="426.14" font-size="7.2" text-anchor="end" fill="#282828" textLength="9.9" lengthAdjust="spacingAndGlyphs" stroke="#282828" stroke-width="0.22">0.4</text><line x1="314.8" y1="398.16" x2="318.7" y2="398.16" stroke="#000" stroke-width="1"/><text x="312.8" y="400.66" font-size="7.2" text-anchor="end" fill="#282828" textLength="9.9" lengthAdjust="spacingAndGlyphs" stroke="#282828" stroke-width="0.22">0.6</text><line x1="328.8" y1="478.3" x2="328.8" y2="481" stroke="#000" stroke-width="1"/><line x1="344" y1="478.3" x2="344" y2="481" stroke="#000" stroke-width="1"/><rect x="322" y="400.71" width="7" height="73.89" fill="#444c9e"/><rect x="329" y="403.77" width="6.699999999999989" height="70.83" fill="#c8141e"/><rect x="337.6" y="421.09" width="6.699999999999989" height="53.51" fill="#444c9e"/><rect x="344.3" y="418.03" width="7.599999999999966" height="56.57" fill="#c8141e"/><text x="331.4" y="489.0" font-size="8.2" text-anchor="end" fill="#282828" transform="rotate(-45 331.4 489.0)" stroke="#282828" stroke-width="0.22">PMD</text><text x="346.9" y="489.0" font-size="8.2" text-anchor="end" fill="#282828" transform="rotate(-45 346.9 489.0)" stroke="#282828" stroke-width="0.22">HMD</text><rect x="0" y="0" width="520" height="1.2" fill="#000"/><rect x="0" y="0" width="1.2" height="514" fill="#000"/><rect x="518.7" y="0" width="1.3" height="514" fill="#000"/><rect x="0" y="512.7" width="520" height="1.3" fill="#000"/></svg></body></html>
